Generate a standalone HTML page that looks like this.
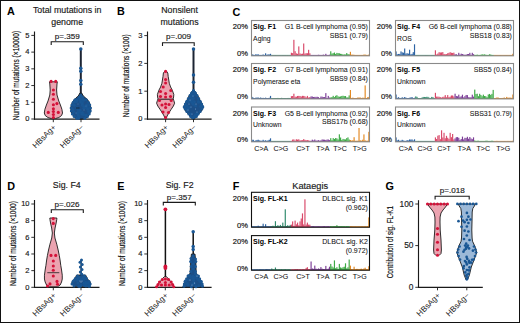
<!DOCTYPE html>
<html><head><meta charset="utf-8"><style>
html,body{margin:0;padding:0;background:#fff;}
body{width:520px;height:323px;overflow:hidden;}
svg{display:block;font-family:"Liberation Sans", sans-serif;}
</style></head><body>
<svg width="520" height="323" viewBox="0 0 520 323">
<rect x="0.5" y="0.5" width="519" height="322" fill="none" stroke="#111" stroke-width="1"/>
<text x="7.00" y="15.40" font-size="10.8" text-anchor="start" font-weight="bold" fill="#000" >A</text>
<text x="67.20" y="13.40" font-size="8.8" text-anchor="middle" font-weight="normal" fill="#1a1a1a" stroke="#1a1a1a" stroke-width="0.16" >Total mutations in</text>
<text x="67.20" y="24.60" font-size="8.8" text-anchor="middle" font-weight="normal" fill="#1a1a1a" stroke="#1a1a1a" stroke-width="0.16" >genome</text>
<line x1="34.50" y1="31.50" x2="34.50" y2="119.80" stroke="#1a1a1a" stroke-width="1.15"/>
<line x1="34.00" y1="119.20" x2="99.50" y2="119.20" stroke="#1a1a1a" stroke-width="1.3"/>
<line x1="31.30" y1="119.00" x2="34.50" y2="119.00" stroke="#1a1a1a" stroke-width="0.9"/>
<text x="29.50" y="121.35" font-size="7.5" text-anchor="end" font-weight="normal" fill="#1a1a1a" stroke="#1a1a1a" stroke-width="0.16" >0</text>
<line x1="31.30" y1="102.28" x2="34.50" y2="102.28" stroke="#1a1a1a" stroke-width="0.9"/>
<text x="29.50" y="104.63" font-size="7.5" text-anchor="end" font-weight="normal" fill="#1a1a1a" stroke="#1a1a1a" stroke-width="0.16" >1</text>
<line x1="31.30" y1="85.56" x2="34.50" y2="85.56" stroke="#1a1a1a" stroke-width="0.9"/>
<text x="29.50" y="87.91" font-size="7.5" text-anchor="end" font-weight="normal" fill="#1a1a1a" stroke="#1a1a1a" stroke-width="0.16" >2</text>
<line x1="31.30" y1="68.84" x2="34.50" y2="68.84" stroke="#1a1a1a" stroke-width="0.9"/>
<text x="29.50" y="71.19" font-size="7.5" text-anchor="end" font-weight="normal" fill="#1a1a1a" stroke="#1a1a1a" stroke-width="0.16" >3</text>
<line x1="31.30" y1="52.12" x2="34.50" y2="52.12" stroke="#1a1a1a" stroke-width="0.9"/>
<text x="29.50" y="54.47" font-size="7.5" text-anchor="end" font-weight="normal" fill="#1a1a1a" stroke="#1a1a1a" stroke-width="0.16" >4</text>
<line x1="31.30" y1="35.40" x2="34.50" y2="35.40" stroke="#1a1a1a" stroke-width="0.9"/>
<text x="29.50" y="37.75" font-size="7.5" text-anchor="end" font-weight="normal" fill="#1a1a1a" stroke="#1a1a1a" stroke-width="0.16" >5</text>
<text x="0" y="0" font-size="8.7" text-anchor="middle" fill="#111" stroke="#111" stroke-width="0.18" textLength="89.5" lengthAdjust="spacingAndGlyphs" transform="translate(15.40,75.60) rotate(-90) translate(0,3.13)">Number of mutations (×10000)</text>
<path d="M51.20,45.00 V41.80 H83.30 V45.00" fill="none" stroke="#1a1a1a" stroke-width="1.1"/>
<text x="67.30" y="38.50" font-size="8.1" text-anchor="middle" font-weight="normal" fill="#1a1a1a" stroke="#1a1a1a" stroke-width="0.16" >p=.359</text>
<line x1="53.30" y1="119.20" x2="53.30" y2="122.20" stroke="#1a1a1a" stroke-width="0.9"/>
<text x="0" y="0" font-size="8.0" text-anchor="end" fill="#1a1a1a" transform="translate(52.50,123.80) rotate(-45) translate(0,5.76)">HBsAg+</text>
<line x1="81.00" y1="119.20" x2="81.00" y2="122.20" stroke="#1a1a1a" stroke-width="0.9"/>
<text x="0" y="0" font-size="8.0" text-anchor="end" fill="#1a1a1a" transform="translate(80.20,123.80) rotate(-45) translate(0,5.76)">HBsAg−</text>
<path d="M57.30,81.80 L57.00,84.00 L56.60,90.00 L57.00,95.00 L58.80,101.00 L60.40,105.00 L61.90,109.30 L62.50,113.00 L61.60,115.50 L58.90,117.50 L55.40,118.60 L51.40,118.60 L47.90,117.50 L45.20,115.50 L44.30,113.00 L44.90,109.30 L46.40,105.00 L48.00,101.00 L49.80,95.00 L50.20,90.00 L49.80,84.00 L49.50,81.80Z" fill="#eba3b0" stroke="#1a1a1a" stroke-width="0.9" stroke-linejoin="round"/>
<circle cx="51.10" cy="81.40" r="1.55" fill="#d41239"/>
<circle cx="55.70" cy="81.40" r="1.55" fill="#d41239"/>
<circle cx="53.40" cy="90.00" r="1.55" fill="#d41239"/>
<circle cx="53.40" cy="94.30" r="1.55" fill="#d41239"/>
<circle cx="53.40" cy="99.30" r="1.55" fill="#d41239"/>
<circle cx="56.90" cy="103.60" r="1.55" fill="#d41239"/>
<circle cx="53.40" cy="104.80" r="1.55" fill="#d41239"/>
<circle cx="53.40" cy="108.70" r="1.55" fill="#d41239"/>
<circle cx="53.40" cy="111.50" r="1.55" fill="#d41239"/>
<circle cx="48.30" cy="112.40" r="1.55" fill="#d41239"/>
<circle cx="58.30" cy="112.40" r="1.55" fill="#d41239"/>
<circle cx="53.40" cy="114.50" r="1.55" fill="#d41239"/>
<circle cx="53.40" cy="117.50" r="1.55" fill="#d41239"/>
<line x1="80.80" y1="49.00" x2="80.80" y2="97.00" stroke="#1c2433" stroke-width="2.0"/>
<path d="M81.70,93.00 L83.30,96.00 L85.80,98.00 L87.80,100.00 L89.60,103.00 L90.80,107.50 L90.60,111.00 L89.60,114.00 L87.80,116.50 L85.30,118.30 L82.80,119.00 L78.80,119.00 L76.30,118.30 L73.80,116.50 L72.00,114.00 L71.00,111.00 L70.80,107.50 L72.00,103.00 L73.80,100.00 L75.80,98.00 L78.30,96.00 L79.90,93.00Z" fill="#1c4f88" stroke="#1a1a1a" stroke-width="0.9" stroke-linejoin="round"/>
<circle cx="80.80" cy="49.10" r="1.75" fill="#1a5794"/>
<circle cx="80.80" cy="68.30" r="1.75" fill="#1a5794"/>
<circle cx="80.80" cy="71.20" r="1.75" fill="#1a5794"/>
<circle cx="80.80" cy="80.60" r="1.75" fill="#1a5794"/>
<circle cx="80.80" cy="84.30" r="1.75" fill="#1a5794"/>
<circle cx="80.80" cy="95.80" r="1.55" fill="#1a5794"/>
<circle cx="79.00" cy="97.50" r="1.55" fill="#1a5794"/>
<circle cx="82.60" cy="97.50" r="1.55" fill="#1a5794"/>
<circle cx="75.40" cy="99.80" r="1.55" fill="#1a5794"/>
<circle cx="86.20" cy="99.80" r="1.55" fill="#1a5794"/>
<circle cx="73.20" cy="102.50" r="1.55" fill="#1a5794"/>
<circle cx="88.40" cy="102.50" r="1.55" fill="#1a5794"/>
<circle cx="71.90" cy="105.00" r="1.55" fill="#1a5794"/>
<circle cx="89.70" cy="105.00" r="1.55" fill="#1a5794"/>
<circle cx="71.20" cy="108.00" r="1.55" fill="#1a5794"/>
<circle cx="90.40" cy="108.00" r="1.55" fill="#1a5794"/>
<circle cx="71.40" cy="111.00" r="1.55" fill="#1a5794"/>
<circle cx="90.20" cy="111.00" r="1.55" fill="#1a5794"/>
<circle cx="72.40" cy="114.00" r="1.55" fill="#1a5794"/>
<circle cx="89.20" cy="114.00" r="1.55" fill="#1a5794"/>
<circle cx="74.20" cy="116.50" r="1.55" fill="#1a5794"/>
<circle cx="87.40" cy="116.50" r="1.55" fill="#1a5794"/>
<circle cx="76.70" cy="118.20" r="1.55" fill="#1a5794"/>
<circle cx="84.90" cy="118.20" r="1.55" fill="#1a5794"/>
<circle cx="74.26" cy="105.31" r="1.55" fill="#1a5794"/>
<circle cx="73.60" cy="111.69" r="1.55" fill="#1a5794"/>
<circle cx="78.33" cy="109.45" r="1.55" fill="#1a5794"/>
<circle cx="80.91" cy="100.13" r="1.55" fill="#1a5794"/>
<circle cx="79.89" cy="99.73" r="1.55" fill="#1a5794"/>
<circle cx="74.82" cy="100.36" r="1.55" fill="#1a5794"/>
<circle cx="87.01" cy="107.28" r="1.55" fill="#1a5794"/>
<circle cx="76.40" cy="101.41" r="1.55" fill="#1a5794"/>
<circle cx="88.52" cy="111.23" r="1.55" fill="#1a5794"/>
<circle cx="78.94" cy="110.25" r="1.55" fill="#1a5794"/>
<circle cx="78.32" cy="118.04" r="1.55" fill="#1a5794"/>
<circle cx="78.45" cy="115.74" r="1.55" fill="#1a5794"/>
<circle cx="74.55" cy="101.81" r="1.55" fill="#1a5794"/>
<circle cx="86.68" cy="105.02" r="1.55" fill="#1a5794"/>
<circle cx="82.19" cy="102.52" r="1.55" fill="#1a5794"/>
<circle cx="78.63" cy="111.46" r="1.55" fill="#1a5794"/>
<circle cx="72.80" cy="109.68" r="1.55" fill="#1a5794"/>
<circle cx="76.58" cy="100.16" r="1.55" fill="#1a5794"/>
<circle cx="79.62" cy="112.27" r="1.55" fill="#1a5794"/>
<circle cx="82.40" cy="105.13" r="1.55" fill="#1a5794"/>
<circle cx="77.01" cy="107.84" r="1.55" fill="#1a5794"/>
<circle cx="83.46" cy="114.49" r="1.55" fill="#1a5794"/>
<circle cx="82.14" cy="103.76" r="1.55" fill="#1a5794"/>
<circle cx="87.74" cy="109.24" r="1.55" fill="#1a5794"/>
<circle cx="77.59" cy="113.22" r="1.55" fill="#1a5794"/>
<circle cx="78.81" cy="118.11" r="1.55" fill="#1a5794"/>
<circle cx="85.69" cy="107.15" r="1.55" fill="#1a5794"/>
<circle cx="80.62" cy="101.96" r="1.55" fill="#1a5794"/>
<circle cx="83.11" cy="99.76" r="1.55" fill="#1a5794"/>
<circle cx="81.84" cy="113.91" r="1.55" fill="#1a5794"/>
<circle cx="78.84" cy="116.07" r="1.55" fill="#1a5794"/>
<circle cx="82.30" cy="112.56" r="1.55" fill="#1a5794"/>
<circle cx="80.01" cy="110.31" r="1.55" fill="#1a5794"/>
<circle cx="86.08" cy="115.38" r="1.55" fill="#1a5794"/>
<circle cx="83.89" cy="108.24" r="1.55" fill="#1a5794"/>
<circle cx="83.69" cy="100.18" r="1.55" fill="#1a5794"/>
<circle cx="89.13" cy="111.62" r="1.55" fill="#1a5794"/>
<circle cx="78.11" cy="115.03" r="1.55" fill="#1a5794"/>
<circle cx="84.00" cy="106.52" r="1.55" fill="#1a5794"/>
<circle cx="80.29" cy="99.44" r="1.55" fill="#1a5794"/>
<line x1="76.00" y1="108.00" x2="79.50" y2="108.00" stroke="#111" stroke-width="0.7"/>
<circle cx="78.00" cy="104.00" r="0.45" fill="#6f95c4"/>
<circle cx="84.00" cy="110.00" r="0.45" fill="#6f95c4"/>
<circle cx="76.00" cy="113.00" r="0.45" fill="#6f95c4"/>
<circle cx="86.00" cy="106.00" r="0.45" fill="#6f95c4"/>
<text x="117.00" y="15.40" font-size="10.8" text-anchor="start" font-weight="bold" fill="#000" >B</text>
<text x="179.60" y="13.40" font-size="8.8" text-anchor="middle" font-weight="normal" fill="#1a1a1a" stroke="#1a1a1a" stroke-width="0.16" >Nonsilent</text>
<text x="179.60" y="24.60" font-size="8.8" text-anchor="middle" font-weight="normal" fill="#1a1a1a" stroke="#1a1a1a" stroke-width="0.16" >mutations</text>
<line x1="147.50" y1="31.50" x2="147.50" y2="119.80" stroke="#1a1a1a" stroke-width="1.15"/>
<line x1="147.00" y1="119.20" x2="211.60" y2="119.20" stroke="#1a1a1a" stroke-width="1.3"/>
<line x1="144.30" y1="119.00" x2="147.50" y2="119.00" stroke="#1a1a1a" stroke-width="0.9"/>
<text x="142.50" y="121.35" font-size="7.5" text-anchor="end" font-weight="normal" fill="#1a1a1a" stroke="#1a1a1a" stroke-width="0.16" >0</text>
<line x1="144.30" y1="91.20" x2="147.50" y2="91.20" stroke="#1a1a1a" stroke-width="0.9"/>
<text x="142.50" y="93.55" font-size="7.5" text-anchor="end" font-weight="normal" fill="#1a1a1a" stroke="#1a1a1a" stroke-width="0.16" >1</text>
<line x1="144.30" y1="63.40" x2="147.50" y2="63.40" stroke="#1a1a1a" stroke-width="0.9"/>
<text x="142.50" y="65.75" font-size="7.5" text-anchor="end" font-weight="normal" fill="#1a1a1a" stroke="#1a1a1a" stroke-width="0.16" >2</text>
<line x1="144.30" y1="35.60" x2="147.50" y2="35.60" stroke="#1a1a1a" stroke-width="0.9"/>
<text x="142.50" y="37.95" font-size="7.5" text-anchor="end" font-weight="normal" fill="#1a1a1a" stroke="#1a1a1a" stroke-width="0.16" >3</text>
<text x="0" y="0" font-size="8.7" text-anchor="middle" fill="#111" stroke="#111" stroke-width="0.18" textLength="82.8" lengthAdjust="spacingAndGlyphs" transform="translate(126.20,75.80) rotate(-90) translate(0,3.13)">Number of mutations (×100)</text>
<path d="M162.50,45.90 V42.70 H194.20 V45.90" fill="none" stroke="#1a1a1a" stroke-width="1.1"/>
<text x="178.50" y="39.30" font-size="8.1" text-anchor="middle" font-weight="normal" fill="#1a1a1a" stroke="#1a1a1a" stroke-width="0.16" >p=.009</text>
<line x1="165.60" y1="119.20" x2="165.60" y2="122.20" stroke="#1a1a1a" stroke-width="0.9"/>
<text x="0" y="0" font-size="8.0" text-anchor="end" fill="#1a1a1a" transform="translate(164.80,123.80) rotate(-45) translate(0,5.76)">HBsAg+</text>
<line x1="193.50" y1="119.20" x2="193.50" y2="122.20" stroke="#1a1a1a" stroke-width="0.9"/>
<text x="0" y="0" font-size="8.0" text-anchor="end" fill="#1a1a1a" transform="translate(192.70,123.80) rotate(-45) translate(0,5.76)">HBsAg−</text>
<path d="M166.40,71.20 L167.80,73.00 L168.20,76.40 L169.30,83.30 L170.60,87.00 L172.30,90.20 L173.80,94.50 L173.60,97.00 L173.20,98.90 L173.80,100.50 L174.60,103.20 L173.40,106.00 L171.20,109.30 L168.80,113.00 L167.10,116.00 L166.10,118.50 L165.10,118.50 L164.10,116.00 L162.40,113.00 L160.00,109.30 L157.80,106.00 L156.60,103.20 L157.40,100.50 L158.00,98.90 L157.60,97.00 L157.40,94.50 L158.90,90.20 L160.60,87.00 L161.90,83.30 L163.00,76.40 L163.40,73.00 L164.80,71.20Z" fill="#eba3b0" stroke="#1a1a1a" stroke-width="0.9" stroke-linejoin="round"/>
<line x1="158.30" y1="99.20" x2="173.00" y2="99.20" stroke="#1a1a1a" stroke-width="1.0"/>
<circle cx="165.60" cy="71.40" r="1.55" fill="#d41239"/>
<circle cx="165.60" cy="79.50" r="1.55" fill="#d41239"/>
<circle cx="165.60" cy="83.00" r="1.55" fill="#d41239"/>
<circle cx="163.20" cy="87.00" r="1.55" fill="#d41239"/>
<circle cx="160.50" cy="91.50" r="1.55" fill="#d41239"/>
<circle cx="170.80" cy="90.50" r="1.55" fill="#d41239"/>
<circle cx="165.60" cy="93.50" r="1.55" fill="#d41239"/>
<circle cx="160.50" cy="96.50" r="1.55" fill="#d41239"/>
<circle cx="170.50" cy="96.50" r="1.55" fill="#d41239"/>
<circle cx="165.60" cy="97.00" r="1.55" fill="#d41239"/>
<circle cx="159.50" cy="100.50" r="1.55" fill="#d41239"/>
<circle cx="171.20" cy="100.50" r="1.55" fill="#d41239"/>
<circle cx="165.60" cy="104.00" r="1.55" fill="#d41239"/>
<circle cx="162.00" cy="105.00" r="1.55" fill="#d41239"/>
<circle cx="169.00" cy="104.50" r="1.55" fill="#d41239"/>
<circle cx="165.60" cy="107.50" r="1.55" fill="#d41239"/>
<circle cx="163.00" cy="112.00" r="1.55" fill="#d41239"/>
<circle cx="168.50" cy="112.50" r="1.55" fill="#d41239"/>
<circle cx="165.60" cy="117.50" r="1.55" fill="#d41239"/>
<line x1="193.50" y1="49.00" x2="193.50" y2="91.00" stroke="#1c2433" stroke-width="2.0"/>
<circle cx="193.50" cy="48.90" r="1.75" fill="#1a5794"/>
<circle cx="193.50" cy="74.90" r="1.75" fill="#1a5794"/>
<circle cx="193.50" cy="82.20" r="1.75" fill="#1a5794"/>
<path d="M194.50,90.50 L196.00,93.00 L198.00,96.00 L200.00,100.00 L202.10,104.00 L203.50,106.90 L202.10,110.00 L199.70,113.00 L197.10,116.00 L195.00,118.50 L194.30,119.20 L192.70,119.20 L192.00,118.50 L189.90,116.00 L187.30,113.00 L184.90,110.00 L183.50,106.90 L184.90,104.00 L187.00,100.00 L189.00,96.00 L191.00,93.00 L192.50,90.50Z" fill="#1c4f88" stroke="#1a1a1a" stroke-width="0.9" stroke-linejoin="round"/>
<circle cx="193.50" cy="90.50" r="1.5" fill="#1a5794"/>
<circle cx="191.60" cy="93.00" r="1.5" fill="#1a5794"/>
<circle cx="195.40" cy="93.00" r="1.5" fill="#1a5794"/>
<circle cx="190.00" cy="95.50" r="1.5" fill="#1a5794"/>
<circle cx="197.00" cy="95.50" r="1.5" fill="#1a5794"/>
<circle cx="188.40" cy="98.50" r="1.5" fill="#1a5794"/>
<circle cx="198.60" cy="98.50" r="1.5" fill="#1a5794"/>
<circle cx="186.60" cy="101.50" r="1.5" fill="#1a5794"/>
<circle cx="200.40" cy="101.50" r="1.5" fill="#1a5794"/>
<circle cx="185.40" cy="104.00" r="1.5" fill="#1a5794"/>
<circle cx="201.60" cy="104.00" r="1.5" fill="#1a5794"/>
<circle cx="184.20" cy="106.90" r="1.5" fill="#1a5794"/>
<circle cx="202.80" cy="106.90" r="1.5" fill="#1a5794"/>
<circle cx="185.20" cy="109.00" r="1.5" fill="#1a5794"/>
<circle cx="201.80" cy="109.00" r="1.5" fill="#1a5794"/>
<circle cx="186.80" cy="111.50" r="1.5" fill="#1a5794"/>
<circle cx="200.20" cy="111.50" r="1.5" fill="#1a5794"/>
<circle cx="188.80" cy="114.00" r="1.5" fill="#1a5794"/>
<circle cx="198.20" cy="114.00" r="1.5" fill="#1a5794"/>
<circle cx="190.60" cy="116.50" r="1.5" fill="#1a5794"/>
<circle cx="196.40" cy="116.50" r="1.5" fill="#1a5794"/>
<circle cx="190.85" cy="96.45" r="1.5" fill="#1a5794"/>
<circle cx="194.45" cy="93.56" r="1.5" fill="#1a5794"/>
<circle cx="192.06" cy="95.43" r="1.5" fill="#1a5794"/>
<circle cx="198.62" cy="102.36" r="1.5" fill="#1a5794"/>
<circle cx="193.29" cy="94.14" r="1.5" fill="#1a5794"/>
<circle cx="200.65" cy="106.56" r="1.5" fill="#1a5794"/>
<circle cx="196.58" cy="113.71" r="1.5" fill="#1a5794"/>
<circle cx="192.63" cy="99.38" r="1.5" fill="#1a5794"/>
<circle cx="198.41" cy="101.51" r="1.5" fill="#1a5794"/>
<circle cx="192.52" cy="117.38" r="1.5" fill="#1a5794"/>
<circle cx="191.58" cy="96.67" r="1.5" fill="#1a5794"/>
<circle cx="193.37" cy="98.18" r="1.5" fill="#1a5794"/>
<circle cx="189.27" cy="107.61" r="1.5" fill="#1a5794"/>
<circle cx="193.35" cy="92.11" r="1.5" fill="#1a5794"/>
<circle cx="194.37" cy="101.79" r="1.5" fill="#1a5794"/>
<circle cx="194.07" cy="117.26" r="1.5" fill="#1a5794"/>
<circle cx="195.57" cy="105.66" r="1.5" fill="#1a5794"/>
<circle cx="187.13" cy="109.92" r="1.5" fill="#1a5794"/>
<circle cx="194.95" cy="115.84" r="1.5" fill="#1a5794"/>
<circle cx="195.35" cy="115.17" r="1.5" fill="#1a5794"/>
<circle cx="192.10" cy="102.40" r="1.5" fill="#1a5794"/>
<circle cx="194.16" cy="94.74" r="1.5" fill="#1a5794"/>
<circle cx="191.92" cy="93.65" r="1.5" fill="#1a5794"/>
<circle cx="190.74" cy="97.53" r="1.5" fill="#1a5794"/>
<circle cx="188.04" cy="101.01" r="1.5" fill="#1a5794"/>
<circle cx="192.89" cy="92.01" r="1.5" fill="#1a5794"/>
<circle cx="192.84" cy="94.69" r="1.5" fill="#1a5794"/>
<circle cx="194.45" cy="92.68" r="1.5" fill="#1a5794"/>
<circle cx="187.59" cy="108.27" r="1.5" fill="#1a5794"/>
<circle cx="192.05" cy="98.68" r="1.5" fill="#1a5794"/>
<circle cx="188.62" cy="101.65" r="1.5" fill="#1a5794"/>
<circle cx="197.07" cy="114.50" r="1.5" fill="#1a5794"/>
<circle cx="193.24" cy="104.35" r="1.5" fill="#1a5794"/>
<circle cx="191.76" cy="94.28" r="1.5" fill="#1a5794"/>
<circle cx="190.61" cy="101.08" r="1.5" fill="#1a5794"/>
<circle cx="190.77" cy="113.96" r="1.5" fill="#1a5794"/>
<circle cx="194.61" cy="92.61" r="1.5" fill="#1a5794"/>
<circle cx="187.14" cy="106.00" r="1.5" fill="#1a5794"/>
<circle cx="184.77" cy="106.39" r="1.5" fill="#1a5794"/>
<circle cx="202.11" cy="105.99" r="1.5" fill="#1a5794"/>
<circle cx="190.00" cy="100.00" r="0.5" fill="#7fa3cf"/>
<circle cx="196.00" cy="104.00" r="0.5" fill="#7fa3cf"/>
<circle cx="188.00" cy="110.00" r="0.5" fill="#7fa3cf"/>
<circle cx="197.00" cy="112.00" r="0.5" fill="#7fa3cf"/>
<circle cx="193.00" cy="96.00" r="0.5" fill="#7fa3cf"/>
<circle cx="191.00" cy="107.00" r="0.5" fill="#7fa3cf"/>
<circle cx="195.50" cy="109.00" r="0.5" fill="#7fa3cf"/>
<circle cx="192.00" cy="114.00" r="0.5" fill="#7fa3cf"/>
<circle cx="189.00" cy="104.00" r="0.5" fill="#7fa3cf"/>
<text x="7.30" y="189.70" font-size="10.8" text-anchor="start" font-weight="bold" fill="#000" >D</text>
<text x="66.80" y="188.00" font-size="8.8" text-anchor="middle" font-weight="normal" fill="#1a1a1a" stroke="#1a1a1a" stroke-width="0.16" >Sig. F4</text>
<line x1="34.50" y1="200.00" x2="34.50" y2="287.90" stroke="#1a1a1a" stroke-width="1.15"/>
<line x1="34.00" y1="287.30" x2="99.50" y2="287.30" stroke="#1a1a1a" stroke-width="1.3"/>
<line x1="31.30" y1="287.30" x2="34.50" y2="287.30" stroke="#1a1a1a" stroke-width="0.9"/>
<text x="29.50" y="289.65" font-size="7.5" text-anchor="end" font-weight="normal" fill="#1a1a1a" stroke="#1a1a1a" stroke-width="0.16" >0</text>
<line x1="31.30" y1="270.64" x2="34.50" y2="270.64" stroke="#1a1a1a" stroke-width="0.9"/>
<text x="29.50" y="272.99" font-size="7.5" text-anchor="end" font-weight="normal" fill="#1a1a1a" stroke="#1a1a1a" stroke-width="0.16" >2</text>
<line x1="31.30" y1="253.98" x2="34.50" y2="253.98" stroke="#1a1a1a" stroke-width="0.9"/>
<text x="29.50" y="256.33" font-size="7.5" text-anchor="end" font-weight="normal" fill="#1a1a1a" stroke="#1a1a1a" stroke-width="0.16" >4</text>
<line x1="31.30" y1="237.32" x2="34.50" y2="237.32" stroke="#1a1a1a" stroke-width="0.9"/>
<text x="29.50" y="239.67" font-size="7.5" text-anchor="end" font-weight="normal" fill="#1a1a1a" stroke="#1a1a1a" stroke-width="0.16" >6</text>
<line x1="31.30" y1="220.66" x2="34.50" y2="220.66" stroke="#1a1a1a" stroke-width="0.9"/>
<text x="29.50" y="223.01" font-size="7.5" text-anchor="end" font-weight="normal" fill="#1a1a1a" stroke="#1a1a1a" stroke-width="0.16" >8</text>
<line x1="31.30" y1="204.00" x2="34.50" y2="204.00" stroke="#1a1a1a" stroke-width="0.9"/>
<text x="29.50" y="206.35" font-size="7.5" text-anchor="end" font-weight="normal" fill="#1a1a1a" stroke="#1a1a1a" stroke-width="0.16" >10</text>
<text x="0" y="0" font-size="8.7" text-anchor="middle" fill="#111" stroke="#111" stroke-width="0.18" textLength="85" lengthAdjust="spacingAndGlyphs" transform="translate(12.40,243.60) rotate(-90) translate(0,3.13)">Number of mutations (×1000)</text>
<path d="M51.30,212.90 V209.70 H83.30 V212.90" fill="none" stroke="#1a1a1a" stroke-width="1.1"/>
<text x="67.10" y="206.80" font-size="8.1" text-anchor="middle" font-weight="normal" fill="#1a1a1a" stroke="#1a1a1a" stroke-width="0.16" >p=.026</text>
<line x1="53.30" y1="287.30" x2="53.30" y2="290.30" stroke="#1a1a1a" stroke-width="0.9"/>
<text x="0" y="0" font-size="8.0" text-anchor="end" fill="#1a1a1a" transform="translate(52.50,291.90) rotate(-45) translate(0,5.76)">HBsAg+</text>
<line x1="81.00" y1="287.30" x2="81.00" y2="290.30" stroke="#1a1a1a" stroke-width="0.9"/>
<text x="0" y="0" font-size="8.0" text-anchor="end" fill="#1a1a1a" transform="translate(80.20,291.90) rotate(-45) translate(0,5.76)">HBsAg−</text>
<path d="M56.85,218.00 L56.75,219.50 L56.15,223.00 L55.05,228.00 L54.35,233.00 L54.95,238.00 L56.75,244.20 L58.15,250.00 L59.25,255.40 L60.05,260.00 L60.75,265.30 L61.55,270.00 L62.25,275.20 L62.25,279.00 L61.55,282.00 L60.15,285.00 L57.35,286.80 L49.35,286.80 L46.55,285.00 L45.15,282.00 L44.45,279.00 L44.45,275.20 L45.15,270.00 L45.95,265.30 L46.65,260.00 L47.45,255.40 L48.55,250.00 L49.95,244.20 L51.75,238.00 L52.35,233.00 L51.65,228.00 L50.55,223.00 L49.95,219.50 L49.85,218.00Z" fill="#eba3b0" stroke="#1a1a1a" stroke-width="0.9" stroke-linejoin="round"/>
<circle cx="53.30" cy="218.60" r="1.55" fill="#d41239"/>
<circle cx="53.30" cy="223.40" r="1.55" fill="#d41239"/>
<circle cx="51.00" cy="255.40" r="1.55" fill="#d41239"/>
<circle cx="55.70" cy="255.40" r="1.55" fill="#d41239"/>
<circle cx="53.30" cy="261.00" r="1.55" fill="#d41239"/>
<circle cx="53.30" cy="266.00" r="1.55" fill="#d41239"/>
<circle cx="53.30" cy="270.20" r="1.55" fill="#d41239"/>
<circle cx="53.30" cy="276.00" r="1.55" fill="#d41239"/>
<circle cx="57.00" cy="281.40" r="1.55" fill="#d41239"/>
<circle cx="50.00" cy="283.90" r="1.55" fill="#d41239"/>
<circle cx="57.50" cy="284.20" r="1.55" fill="#d41239"/>
<circle cx="47.50" cy="286.00" r="1.55" fill="#d41239"/>
<line x1="47.30" y1="272.70" x2="59.30" y2="272.70" stroke="#1a1a1a" stroke-width="0.8"/>
<line x1="81.10" y1="260.00" x2="81.10" y2="276.00" stroke="#1c2433" stroke-width="1.3"/>
<path d="M85.60,275.00 L86.60,277.00 L87.60,279.00 L89.60,281.00 L90.60,283.00 L89.60,285.00 L86.10,286.80 L76.10,286.80 L72.60,285.00 L71.60,283.00 L72.60,281.00 L74.60,279.00 L75.60,277.00 L76.60,275.00Z" fill="#1c4f88" stroke="#1a1a1a" stroke-width="0.8" stroke-linejoin="round"/>
<circle cx="81.50" cy="259.90" r="1.5" fill="#1a5794"/>
<circle cx="80.00" cy="262.20" r="1.5" fill="#1a5794"/>
<circle cx="82.20" cy="264.60" r="1.5" fill="#1a5794"/>
<circle cx="80.40" cy="267.00" r="1.5" fill="#1a5794"/>
<circle cx="82.00" cy="269.50" r="1.5" fill="#1a5794"/>
<circle cx="80.30" cy="272.00" r="1.5" fill="#1a5794"/>
<circle cx="81.80" cy="274.20" r="1.5" fill="#1a5794"/>
<circle cx="77.50" cy="276.00" r="1.5" fill="#1a5794"/>
<circle cx="84.50" cy="276.00" r="1.5" fill="#1a5794"/>
<circle cx="75.30" cy="278.50" r="1.5" fill="#1a5794"/>
<circle cx="86.50" cy="278.50" r="1.5" fill="#1a5794"/>
<circle cx="73.00" cy="281.50" r="1.5" fill="#1a5794"/>
<circle cx="89.00" cy="281.50" r="1.5" fill="#1a5794"/>
<circle cx="72.00" cy="284.00" r="1.5" fill="#1a5794"/>
<circle cx="90.20" cy="284.00" r="1.5" fill="#1a5794"/>
<circle cx="74.00" cy="286.00" r="1.5" fill="#1a5794"/>
<circle cx="88.50" cy="286.00" r="1.5" fill="#1a5794"/>
<circle cx="78.00" cy="283.00" r="1.5" fill="#1a5794"/>
<circle cx="84.00" cy="283.00" r="1.5" fill="#1a5794"/>
<circle cx="81.00" cy="285.00" r="1.5" fill="#1a5794"/>
<circle cx="84.44" cy="285.46" r="1.5" fill="#1a5794"/>
<circle cx="79.27" cy="279.56" r="1.5" fill="#1a5794"/>
<circle cx="84.42" cy="278.64" r="1.5" fill="#1a5794"/>
<circle cx="85.84" cy="282.22" r="1.5" fill="#1a5794"/>
<circle cx="77.01" cy="280.23" r="1.5" fill="#1a5794"/>
<circle cx="89.34" cy="284.95" r="1.5" fill="#1a5794"/>
<circle cx="86.30" cy="285.36" r="1.5" fill="#1a5794"/>
<circle cx="85.18" cy="285.02" r="1.5" fill="#1a5794"/>
<circle cx="81.33" cy="279.22" r="1.5" fill="#1a5794"/>
<circle cx="73.95" cy="280.48" r="1.5" fill="#1a5794"/>
<circle cx="78.89" cy="277.27" r="1.5" fill="#1a5794"/>
<circle cx="83.73" cy="279.54" r="1.5" fill="#1a5794"/>
<circle cx="80.20" cy="286.37" r="1.5" fill="#1a5794"/>
<circle cx="89.40" cy="286.18" r="1.5" fill="#1a5794"/>
<circle cx="78.80" cy="286.36" r="1.5" fill="#1a5794"/>
<circle cx="77.53" cy="279.16" r="1.5" fill="#1a5794"/>
<circle cx="77.35" cy="278.93" r="1.5" fill="#1a5794"/>
<circle cx="87.91" cy="283.12" r="1.5" fill="#1a5794"/>
<circle cx="80.75" cy="285.24" r="1.5" fill="#1a5794"/>
<circle cx="86.19" cy="283.40" r="1.5" fill="#1a5794"/>
<circle cx="82.86" cy="277.83" r="1.5" fill="#1a5794"/>
<circle cx="85.90" cy="285.92" r="1.5" fill="#1a5794"/>
<circle cx="80.00" cy="281.00" r="0.55" fill="#8fb0d8"/>
<circle cx="82.00" cy="281.00" r="0.55" fill="#8fb0d8"/>
<circle cx="81.00" cy="282.00" r="0.55" fill="#8fb0d8"/>
<text x="117.30" y="190.00" font-size="10.8" text-anchor="start" font-weight="bold" fill="#000" >E</text>
<text x="179.60" y="188.00" font-size="8.8" text-anchor="middle" font-weight="normal" fill="#1a1a1a" stroke="#1a1a1a" stroke-width="0.16" >Sig. F2</text>
<line x1="147.50" y1="200.00" x2="147.50" y2="287.90" stroke="#1a1a1a" stroke-width="1.15"/>
<line x1="147.00" y1="287.30" x2="211.60" y2="287.30" stroke="#1a1a1a" stroke-width="1.3"/>
<line x1="144.30" y1="287.30" x2="147.50" y2="287.30" stroke="#1a1a1a" stroke-width="0.9"/>
<text x="142.50" y="289.65" font-size="7.5" text-anchor="end" font-weight="normal" fill="#1a1a1a" stroke="#1a1a1a" stroke-width="0.16" >0</text>
<line x1="144.30" y1="270.64" x2="147.50" y2="270.64" stroke="#1a1a1a" stroke-width="0.9"/>
<text x="142.50" y="272.99" font-size="7.5" text-anchor="end" font-weight="normal" fill="#1a1a1a" stroke="#1a1a1a" stroke-width="0.16" >2</text>
<line x1="144.30" y1="253.98" x2="147.50" y2="253.98" stroke="#1a1a1a" stroke-width="0.9"/>
<text x="142.50" y="256.33" font-size="7.5" text-anchor="end" font-weight="normal" fill="#1a1a1a" stroke="#1a1a1a" stroke-width="0.16" >4</text>
<line x1="144.30" y1="237.32" x2="147.50" y2="237.32" stroke="#1a1a1a" stroke-width="0.9"/>
<text x="142.50" y="239.67" font-size="7.5" text-anchor="end" font-weight="normal" fill="#1a1a1a" stroke="#1a1a1a" stroke-width="0.16" >6</text>
<line x1="144.30" y1="220.66" x2="147.50" y2="220.66" stroke="#1a1a1a" stroke-width="0.9"/>
<text x="142.50" y="223.01" font-size="7.5" text-anchor="end" font-weight="normal" fill="#1a1a1a" stroke="#1a1a1a" stroke-width="0.16" >8</text>
<line x1="144.30" y1="204.00" x2="147.50" y2="204.00" stroke="#1a1a1a" stroke-width="0.9"/>
<text x="142.50" y="206.35" font-size="7.5" text-anchor="end" font-weight="normal" fill="#1a1a1a" stroke="#1a1a1a" stroke-width="0.16" >10</text>
<text x="0" y="0" font-size="8.7" text-anchor="middle" fill="#111" stroke="#111" stroke-width="0.18" textLength="85" lengthAdjust="spacingAndGlyphs" transform="translate(122.00,243.60) rotate(-90) translate(0,3.13)">Number of mutations (×1000)</text>
<path d="M163.30,205.60 V202.40 H195.30 V205.60" fill="none" stroke="#1a1a1a" stroke-width="1.1"/>
<text x="179.20" y="199.50" font-size="8.1" text-anchor="middle" font-weight="normal" fill="#1a1a1a" stroke="#1a1a1a" stroke-width="0.16" >p=.357</text>
<line x1="165.30" y1="287.30" x2="165.30" y2="290.30" stroke="#1a1a1a" stroke-width="0.9"/>
<text x="0" y="0" font-size="8.0" text-anchor="end" fill="#1a1a1a" transform="translate(164.50,291.90) rotate(-45) translate(0,5.76)">HBsAg+</text>
<line x1="193.20" y1="287.30" x2="193.20" y2="290.30" stroke="#1a1a1a" stroke-width="0.9"/>
<text x="0" y="0" font-size="8.0" text-anchor="end" fill="#1a1a1a" transform="translate(192.40,291.90) rotate(-45) translate(0,5.76)">HBsAg−</text>
<line x1="165.40" y1="209.00" x2="165.40" y2="277.00" stroke="#111" stroke-width="1.5"/>
<path d="M166.20,276.60 L167.90,278.00 L169.40,280.00 L172.40,283.90 L173.70,286.00 L173.90,287.30 L156.90,287.30 L157.10,286.00 L158.40,283.90 L161.40,280.00 L162.90,278.00 L164.60,276.60Z" fill="#eba3b0" stroke="#1a1a1a" stroke-width="0.9" stroke-linejoin="round"/>
<circle cx="165.40" cy="209.30" r="1.9" fill="#d41239"/>
<circle cx="165.40" cy="266.40" r="1.9" fill="#d41239"/>
<circle cx="165.40" cy="268.00" r="1.9" fill="#d41239"/>
<circle cx="162.30" cy="279.50" r="1.55" fill="#d41239"/>
<circle cx="165.40" cy="279.00" r="1.55" fill="#d41239"/>
<circle cx="168.50" cy="279.50" r="1.55" fill="#d41239"/>
<circle cx="159.50" cy="282.00" r="1.55" fill="#d41239"/>
<circle cx="171.20" cy="282.00" r="1.55" fill="#d41239"/>
<circle cx="165.40" cy="282.50" r="1.55" fill="#d41239"/>
<circle cx="158.00" cy="284.50" r="1.55" fill="#d41239"/>
<circle cx="161.50" cy="285.00" r="1.55" fill="#d41239"/>
<circle cx="165.40" cy="285.00" r="1.55" fill="#d41239"/>
<circle cx="169.20" cy="285.00" r="1.55" fill="#d41239"/>
<circle cx="172.60" cy="284.50" r="1.55" fill="#d41239"/>
<circle cx="156.60" cy="286.80" r="1.55" fill="#d41239"/>
<circle cx="173.80" cy="286.80" r="1.55" fill="#d41239"/>
<line x1="193.20" y1="232.00" x2="193.20" y2="276.00" stroke="#111" stroke-width="1.5"/>
<path d="M195.00,254.00 L195.90,262.00 L196.20,272.70 L199.20,278.30 L202.20,283.30 L203.20,286.50 L202.70,287.30 L183.70,287.30 L183.20,286.50 L184.20,283.30 L187.20,278.30 L190.20,272.70 L190.50,262.00 L191.40,254.00Z" fill="#1c4f88" stroke="#1a1a1a" stroke-width="0.8" stroke-linejoin="round"/>
<circle cx="193.20" cy="231.80" r="1.75" fill="#1a5794"/>
<circle cx="193.20" cy="246.60" r="1.75" fill="#1a5794"/>
<circle cx="193.20" cy="249.40" r="1.75" fill="#1a5794"/>
<circle cx="193.20" cy="256.00" r="1.5" fill="#1a5794"/>
<circle cx="191.00" cy="258.50" r="1.5" fill="#1a5794"/>
<circle cx="195.50" cy="259.00" r="1.5" fill="#1a5794"/>
<circle cx="190.60" cy="261.60" r="1.5" fill="#1a5794"/>
<circle cx="195.80" cy="261.60" r="1.5" fill="#1a5794"/>
<circle cx="193.20" cy="264.00" r="1.5" fill="#1a5794"/>
<circle cx="191.20" cy="266.50" r="1.5" fill="#1a5794"/>
<circle cx="195.40" cy="266.50" r="1.5" fill="#1a5794"/>
<circle cx="193.20" cy="269.00" r="1.5" fill="#1a5794"/>
<circle cx="190.80" cy="271.50" r="1.5" fill="#1a5794"/>
<circle cx="195.50" cy="271.50" r="1.5" fill="#1a5794"/>
<circle cx="188.00" cy="276.00" r="1.5" fill="#1a5794"/>
<circle cx="198.50" cy="276.00" r="1.5" fill="#1a5794"/>
<circle cx="186.60" cy="278.80" r="1.5" fill="#1a5794"/>
<circle cx="199.60" cy="278.80" r="1.5" fill="#1a5794"/>
<circle cx="185.00" cy="281.50" r="1.5" fill="#1a5794"/>
<circle cx="201.40" cy="281.50" r="1.5" fill="#1a5794"/>
<circle cx="184.30" cy="284.00" r="1.5" fill="#1a5794"/>
<circle cx="202.20" cy="284.00" r="1.5" fill="#1a5794"/>
<circle cx="184.00" cy="286.30" r="1.5" fill="#1a5794"/>
<circle cx="202.50" cy="286.30" r="1.5" fill="#1a5794"/>
<circle cx="192.80" cy="283.75" r="1.5" fill="#1a5794"/>
<circle cx="196.19" cy="276.32" r="1.5" fill="#1a5794"/>
<circle cx="197.03" cy="278.32" r="1.5" fill="#1a5794"/>
<circle cx="191.33" cy="286.63" r="1.5" fill="#1a5794"/>
<circle cx="199.38" cy="279.22" r="1.5" fill="#1a5794"/>
<circle cx="187.26" cy="283.42" r="1.5" fill="#1a5794"/>
<circle cx="189.87" cy="275.65" r="1.5" fill="#1a5794"/>
<circle cx="198.72" cy="285.76" r="1.5" fill="#1a5794"/>
<circle cx="196.41" cy="275.90" r="1.5" fill="#1a5794"/>
<circle cx="196.03" cy="286.74" r="1.5" fill="#1a5794"/>
<circle cx="193.83" cy="278.56" r="1.5" fill="#1a5794"/>
<circle cx="188.54" cy="275.70" r="1.5" fill="#1a5794"/>
<circle cx="195.89" cy="286.62" r="1.5" fill="#1a5794"/>
<circle cx="200.04" cy="280.85" r="1.5" fill="#1a5794"/>
<circle cx="198.53" cy="279.64" r="1.5" fill="#1a5794"/>
<circle cx="188.00" cy="284.74" r="1.5" fill="#1a5794"/>
<circle cx="190.82" cy="277.27" r="1.5" fill="#1a5794"/>
<circle cx="194.18" cy="277.13" r="1.5" fill="#1a5794"/>
<circle cx="192.26" cy="277.37" r="1.5" fill="#1a5794"/>
<circle cx="197.14" cy="275.70" r="1.5" fill="#1a5794"/>
<circle cx="192.65" cy="278.60" r="1.5" fill="#1a5794"/>
<circle cx="199.94" cy="281.58" r="1.5" fill="#1a5794"/>
<circle cx="199.10" cy="279.47" r="1.5" fill="#1a5794"/>
<circle cx="193.69" cy="280.52" r="1.5" fill="#1a5794"/>
<circle cx="185.63" cy="280.81" r="1.5" fill="#1a5794"/>
<circle cx="188.63" cy="279.72" r="1.5" fill="#1a5794"/>
<circle cx="195.48" cy="274.05" r="1.5" fill="#1a5794"/>
<circle cx="192.93" cy="276.24" r="1.5" fill="#1a5794"/>
<circle cx="194.22" cy="283.43" r="1.5" fill="#1a5794"/>
<circle cx="193.43" cy="278.24" r="1.5" fill="#1a5794"/>
<circle cx="194.50" cy="283.00" r="0.55" fill="#8fb0d8"/>
<circle cx="190.00" cy="280.00" r="0.55" fill="#8fb0d8"/>
<circle cx="197.00" cy="276.00" r="0.55" fill="#8fb0d8"/>
<circle cx="192.00" cy="285.00" r="0.55" fill="#8fb0d8"/>
<text x="385.40" y="189.70" font-size="10.8" text-anchor="start" font-weight="bold" fill="#000" >G</text>
<line x1="418.50" y1="200.20" x2="418.50" y2="287.90" stroke="#1a1a1a" stroke-width="1.15"/>
<line x1="418.00" y1="287.30" x2="482.80" y2="287.30" stroke="#1a1a1a" stroke-width="1.3"/>
<line x1="415.30" y1="287.30" x2="418.50" y2="287.30" stroke="#1a1a1a" stroke-width="0.9"/>
<text x="413.50" y="289.97" font-size="8.4" text-anchor="end" font-weight="normal" fill="#1a1a1a" stroke="#1a1a1a" stroke-width="0.16" >0</text>
<line x1="415.30" y1="245.60" x2="418.50" y2="245.60" stroke="#1a1a1a" stroke-width="0.9"/>
<text x="413.50" y="248.26" font-size="8.4" text-anchor="end" font-weight="normal" fill="#1a1a1a" stroke="#1a1a1a" stroke-width="0.16" >50</text>
<line x1="415.30" y1="204.00" x2="418.50" y2="204.00" stroke="#1a1a1a" stroke-width="0.9"/>
<text x="413.50" y="206.66" font-size="8.4" text-anchor="end" font-weight="normal" fill="#1a1a1a" stroke="#1a1a1a" stroke-width="0.16" >100</text>
<text x="0" y="0" font-size="8.7" text-anchor="middle" fill="#111" stroke="#111" stroke-width="0.18" textLength="72.3" lengthAdjust="spacingAndGlyphs" transform="translate(390.10,242.10) rotate(-90) translate(0,3.13)">Contribution of sig. FL-K1</text>
<path d="M435.10,199.40 V196.20 H469.20 V199.40" fill="none" stroke="#1a1a1a" stroke-width="1.1"/>
<text x="452.20" y="193.00" font-size="8.1" text-anchor="middle" font-weight="normal" fill="#1a1a1a" stroke="#1a1a1a" stroke-width="0.16" >p=.018</text>
<line x1="437.50" y1="287.30" x2="437.50" y2="290.30" stroke="#1a1a1a" stroke-width="0.9"/>
<text x="0" y="0" font-size="8.0" text-anchor="end" fill="#1a1a1a" transform="translate(436.70,291.90) rotate(-45) translate(0,5.76)">HBsAg+</text>
<line x1="466.80" y1="287.30" x2="466.80" y2="290.30" stroke="#1a1a1a" stroke-width="0.9"/>
<text x="0" y="0" font-size="8.0" text-anchor="end" fill="#1a1a1a" transform="translate(466.00,291.90) rotate(-45) translate(0,5.76)">HBsAg−</text>
<path d="M447.50,204.00 L445.50,207.00 L443.00,210.00 L441.00,213.00 L440.10,217.00 L440.00,222.00 L440.20,230.00 L441.00,240.00 L441.40,250.00 L441.00,253.50 L439.00,255.50 L436.00,255.50 L434.00,253.50 L433.60,250.00 L434.00,240.00 L434.80,230.00 L435.00,222.00 L434.90,217.00 L434.00,213.00 L432.00,210.00 L429.50,207.00 L427.50,204.00Z" fill="#eba3b0" stroke="#1a1a1a" stroke-width="0.9" stroke-linejoin="round"/>
<circle cx="427.50" cy="204.00" r="1.55" fill="#d41239"/>
<circle cx="430.83" cy="204.00" r="1.55" fill="#d41239"/>
<circle cx="434.16" cy="204.00" r="1.55" fill="#d41239"/>
<circle cx="437.49" cy="204.00" r="1.55" fill="#d41239"/>
<circle cx="440.82" cy="204.00" r="1.55" fill="#d41239"/>
<circle cx="444.15" cy="204.00" r="1.55" fill="#d41239"/>
<circle cx="447.48" cy="204.00" r="1.55" fill="#d41239"/>
<circle cx="437.50" cy="228.50" r="1.55" fill="#d41239"/>
<circle cx="437.50" cy="234.30" r="1.55" fill="#d41239"/>
<circle cx="437.50" cy="242.20" r="1.55" fill="#d41239"/>
<circle cx="437.50" cy="249.80" r="1.55" fill="#d41239"/>
<circle cx="437.50" cy="255.20" r="1.55" fill="#d41239"/>
<path d="M475.40,204.00 L474.40,206.00 L472.80,208.50 L472.20,212.00 L472.00,222.00 L471.80,230.00 L472.10,238.00 L472.50,241.20 L474.80,246.10 L476.80,252.50 L474.40,259.00 L471.30,267.00 L469.40,275.10 L467.60,279.60 L466.00,279.60 L464.20,275.10 L462.30,267.00 L459.20,259.00 L456.80,252.50 L458.80,246.10 L461.10,241.20 L461.50,238.00 L461.80,230.00 L461.60,222.00 L461.40,212.00 L460.80,208.50 L459.20,206.00 L458.20,204.00Z" fill="#9cb9d8" stroke="#1a1a1a" stroke-width="0.9" stroke-linejoin="round"/>
<circle cx="457.40" cy="203.90" r="1.35" fill="#1a5794"/>
<circle cx="460.55" cy="203.90" r="1.35" fill="#1a5794"/>
<circle cx="463.70" cy="203.90" r="1.35" fill="#1a5794"/>
<circle cx="466.85" cy="203.90" r="1.35" fill="#1a5794"/>
<circle cx="470.00" cy="203.90" r="1.35" fill="#1a5794"/>
<circle cx="473.15" cy="203.90" r="1.35" fill="#1a5794"/>
<circle cx="476.30" cy="203.90" r="1.35" fill="#1a5794"/>
<circle cx="466.90" cy="212.90" r="1.35" fill="#1a5794"/>
<circle cx="461.50" cy="216.70" r="1.35" fill="#1a5794"/>
<circle cx="468.40" cy="216.70" r="1.35" fill="#1a5794"/>
<circle cx="463.00" cy="220.60" r="1.35" fill="#1a5794"/>
<circle cx="466.90" cy="219.80" r="1.35" fill="#1a5794"/>
<circle cx="470.50" cy="219.50" r="1.35" fill="#1a5794"/>
<circle cx="458.50" cy="221.20" r="1.35" fill="#1a5794"/>
<circle cx="464.60" cy="222.20" r="1.35" fill="#1a5794"/>
<circle cx="468.40" cy="223.00" r="1.35" fill="#1a5794"/>
<circle cx="461.50" cy="226.80" r="1.35" fill="#1a5794"/>
<circle cx="466.90" cy="226.50" r="1.35" fill="#1a5794"/>
<circle cx="464.60" cy="230.70" r="1.35" fill="#1a5794"/>
<circle cx="468.40" cy="231.50" r="1.35" fill="#1a5794"/>
<circle cx="466.80" cy="235.50" r="1.35" fill="#1a5794"/>
<circle cx="464.00" cy="239.00" r="1.35" fill="#1a5794"/>
<circle cx="469.50" cy="240.00" r="1.35" fill="#1a5794"/>
<circle cx="459.60" cy="246.50" r="1.35" fill="#1a5794"/>
<circle cx="474.00" cy="246.50" r="1.35" fill="#1a5794"/>
<circle cx="458.20" cy="249.50" r="1.35" fill="#1a5794"/>
<circle cx="475.40" cy="249.50" r="1.35" fill="#1a5794"/>
<circle cx="457.60" cy="252.50" r="1.35" fill="#1a5794"/>
<circle cx="476.00" cy="252.50" r="1.35" fill="#1a5794"/>
<circle cx="458.60" cy="256.00" r="1.35" fill="#1a5794"/>
<circle cx="475.00" cy="256.00" r="1.35" fill="#1a5794"/>
<circle cx="460.00" cy="259.50" r="1.35" fill="#1a5794"/>
<circle cx="473.60" cy="259.50" r="1.35" fill="#1a5794"/>
<circle cx="469.72" cy="262.44" r="1.35" fill="#1a5794"/>
<circle cx="467.28" cy="246.71" r="1.35" fill="#1a5794"/>
<circle cx="463.46" cy="251.70" r="1.35" fill="#1a5794"/>
<circle cx="466.84" cy="270.03" r="1.35" fill="#1a5794"/>
<circle cx="469.44" cy="262.66" r="1.35" fill="#1a5794"/>
<circle cx="466.64" cy="274.94" r="1.35" fill="#1a5794"/>
<circle cx="466.85" cy="264.44" r="1.35" fill="#1a5794"/>
<circle cx="468.96" cy="260.93" r="1.35" fill="#1a5794"/>
<circle cx="467.21" cy="258.83" r="1.35" fill="#1a5794"/>
<circle cx="472.06" cy="259.73" r="1.35" fill="#1a5794"/>
<circle cx="469.54" cy="267.47" r="1.35" fill="#1a5794"/>
<circle cx="466.28" cy="275.98" r="1.35" fill="#1a5794"/>
<circle cx="471.32" cy="262.58" r="1.35" fill="#1a5794"/>
<circle cx="465.23" cy="272.40" r="1.35" fill="#1a5794"/>
<circle cx="466.29" cy="247.26" r="1.35" fill="#1a5794"/>
<circle cx="465.15" cy="245.54" r="1.35" fill="#1a5794"/>
<circle cx="467.88" cy="245.56" r="1.35" fill="#1a5794"/>
<circle cx="468.98" cy="270.44" r="1.35" fill="#1a5794"/>
<circle cx="469.04" cy="248.41" r="1.35" fill="#1a5794"/>
<circle cx="463.91" cy="266.11" r="1.35" fill="#1a5794"/>
<circle cx="468.40" cy="273.90" r="1.35" fill="#1a5794"/>
<circle cx="472.93" cy="250.69" r="1.35" fill="#1a5794"/>
<circle cx="466.63" cy="256.94" r="1.35" fill="#1a5794"/>
<circle cx="467.40" cy="277.65" r="1.35" fill="#1a5794"/>
<circle cx="466.07" cy="248.65" r="1.35" fill="#1a5794"/>
<circle cx="465.01" cy="261.05" r="1.35" fill="#1a5794"/>
<circle cx="464.55" cy="249.85" r="1.35" fill="#1a5794"/>
<circle cx="463.54" cy="268.28" r="1.35" fill="#1a5794"/>
<circle cx="466.19" cy="262.39" r="1.35" fill="#1a5794"/>
<circle cx="466.18" cy="243.63" r="1.35" fill="#1a5794"/>
<circle cx="466.80" cy="279.30" r="1.35" fill="#1a5794"/>
<text x="232.40" y="15.60" font-size="10.8" text-anchor="start" font-weight="bold" fill="#000" >C</text>
<rect x="251.50" y="54.30" width="1.17" height="1.50" fill="#2e64a4"/>
<rect x="252.73" y="54.79" width="1.17" height="1.01" fill="#2e64a4"/>
<rect x="253.96" y="55.24" width="1.17" height="0.56" fill="#2e64a4"/>
<rect x="255.19" y="54.31" width="1.17" height="1.49" fill="#2e64a4"/>
<rect x="256.42" y="54.51" width="1.17" height="1.29" fill="#2e64a4"/>
<rect x="257.65" y="54.33" width="1.17" height="1.47" fill="#2e64a4"/>
<rect x="258.88" y="55.20" width="1.17" height="0.60" fill="#2e64a4"/>
<rect x="260.10" y="55.03" width="1.17" height="0.77" fill="#2e64a4"/>
<rect x="261.33" y="55.26" width="1.17" height="0.54" fill="#2e64a4"/>
<rect x="262.56" y="54.52" width="1.17" height="1.28" fill="#2e64a4"/>
<rect x="263.79" y="55.03" width="1.17" height="0.77" fill="#2e64a4"/>
<rect x="265.02" y="53.30" width="1.17" height="2.50" fill="#2e64a4"/>
<rect x="266.25" y="54.88" width="1.17" height="0.92" fill="#2e64a4"/>
<rect x="267.48" y="54.39" width="1.17" height="1.41" fill="#2e64a4"/>
<rect x="268.71" y="54.48" width="1.17" height="1.32" fill="#2e64a4"/>
<rect x="269.94" y="53.80" width="1.17" height="2.00" fill="#2e64a4"/>
<rect x="271.17" y="55.48" width="1.17" height="0.32" fill="#2f8a6c"/>
<rect x="272.40" y="55.09" width="1.17" height="0.71" fill="#2f8a6c"/>
<rect x="273.62" y="55.26" width="1.17" height="0.54" fill="#2f8a6c"/>
<rect x="274.85" y="55.20" width="1.17" height="0.60" fill="#2f8a6c"/>
<rect x="276.08" y="55.51" width="1.17" height="0.29" fill="#2f8a6c"/>
<rect x="277.31" y="55.52" width="1.17" height="0.28" fill="#2f8a6c"/>
<rect x="278.54" y="55.21" width="1.17" height="0.59" fill="#2f8a6c"/>
<rect x="279.77" y="55.34" width="1.17" height="0.46" fill="#2f8a6c"/>
<rect x="281.00" y="55.51" width="1.17" height="0.29" fill="#2f8a6c"/>
<rect x="282.23" y="55.08" width="1.17" height="0.72" fill="#2f8a6c"/>
<rect x="283.46" y="55.23" width="1.17" height="0.57" fill="#2f8a6c"/>
<rect x="284.69" y="55.15" width="1.17" height="0.65" fill="#2f8a6c"/>
<rect x="285.92" y="55.51" width="1.17" height="0.29" fill="#2f8a6c"/>
<rect x="287.15" y="55.12" width="1.17" height="0.68" fill="#2f8a6c"/>
<rect x="288.38" y="55.52" width="1.17" height="0.28" fill="#2f8a6c"/>
<rect x="289.60" y="55.12" width="1.17" height="0.68" fill="#2f8a6c"/>
<rect x="290.83" y="52.75" width="1.17" height="3.05" fill="#d94a6a"/>
<rect x="292.06" y="53.11" width="1.17" height="2.69" fill="#d94a6a"/>
<rect x="293.29" y="39.80" width="1.17" height="16.00" fill="#d94a6a"/>
<rect x="294.52" y="51.23" width="1.17" height="4.57" fill="#d94a6a"/>
<rect x="295.75" y="53.34" width="1.17" height="2.46" fill="#d94a6a"/>
<rect x="296.98" y="53.79" width="1.17" height="2.01" fill="#d94a6a"/>
<rect x="298.21" y="46.40" width="1.17" height="9.40" fill="#d94a6a"/>
<rect x="299.44" y="53.44" width="1.17" height="2.36" fill="#d94a6a"/>
<rect x="300.67" y="53.85" width="1.17" height="1.95" fill="#d94a6a"/>
<rect x="301.90" y="53.68" width="1.17" height="2.12" fill="#d94a6a"/>
<rect x="303.12" y="43.50" width="1.17" height="12.30" fill="#d94a6a"/>
<rect x="304.35" y="53.55" width="1.17" height="2.25" fill="#d94a6a"/>
<rect x="305.58" y="53.20" width="1.17" height="2.60" fill="#d94a6a"/>
<rect x="306.81" y="53.22" width="1.17" height="2.58" fill="#d94a6a"/>
<rect x="308.04" y="49.80" width="1.17" height="6.00" fill="#d94a6a"/>
<rect x="309.27" y="53.27" width="1.17" height="2.53" fill="#d94a6a"/>
<rect x="310.50" y="55.00" width="1.17" height="0.80" fill="#7d3f98"/>
<rect x="311.73" y="55.26" width="1.17" height="0.54" fill="#7d3f98"/>
<rect x="312.96" y="55.12" width="1.17" height="0.68" fill="#7d3f98"/>
<rect x="314.19" y="55.39" width="1.17" height="0.41" fill="#7d3f98"/>
<rect x="315.42" y="55.20" width="1.17" height="0.60" fill="#7d3f98"/>
<rect x="316.65" y="55.39" width="1.17" height="0.41" fill="#7d3f98"/>
<rect x="317.88" y="54.81" width="1.17" height="0.99" fill="#7d3f98"/>
<rect x="319.10" y="54.96" width="1.17" height="0.84" fill="#7d3f98"/>
<rect x="320.33" y="55.25" width="1.17" height="0.55" fill="#7d3f98"/>
<rect x="321.56" y="55.02" width="1.17" height="0.78" fill="#7d3f98"/>
<rect x="322.79" y="54.65" width="1.17" height="1.15" fill="#7d3f98"/>
<rect x="324.02" y="55.31" width="1.17" height="0.49" fill="#7d3f98"/>
<rect x="325.25" y="53.80" width="1.17" height="2.00" fill="#7d3f98"/>
<rect x="326.48" y="55.05" width="1.17" height="0.75" fill="#7d3f98"/>
<rect x="327.71" y="55.00" width="1.17" height="0.80" fill="#7d3f98"/>
<rect x="328.94" y="54.73" width="1.17" height="1.07" fill="#7d3f98"/>
<rect x="330.17" y="51.30" width="1.17" height="4.50" fill="#3daa45"/>
<rect x="331.40" y="53.59" width="1.17" height="2.21" fill="#3daa45"/>
<rect x="332.62" y="53.19" width="1.17" height="2.61" fill="#3daa45"/>
<rect x="333.85" y="52.54" width="1.17" height="3.26" fill="#3daa45"/>
<rect x="335.08" y="53.95" width="1.17" height="1.85" fill="#3daa45"/>
<rect x="336.31" y="52.87" width="1.17" height="2.93" fill="#3daa45"/>
<rect x="337.54" y="53.15" width="1.17" height="2.65" fill="#3daa45"/>
<rect x="338.77" y="53.30" width="1.17" height="2.50" fill="#3daa45"/>
<rect x="340.00" y="53.81" width="1.17" height="1.99" fill="#3daa45"/>
<rect x="341.23" y="53.94" width="1.17" height="1.86" fill="#3daa45"/>
<rect x="342.46" y="54.58" width="1.17" height="1.22" fill="#3daa45"/>
<rect x="343.69" y="54.41" width="1.17" height="1.39" fill="#3daa45"/>
<rect x="344.92" y="54.54" width="1.17" height="1.26" fill="#3daa45"/>
<rect x="346.15" y="53.07" width="1.17" height="2.73" fill="#3daa45"/>
<rect x="347.38" y="54.14" width="1.17" height="1.66" fill="#3daa45"/>
<rect x="348.60" y="54.34" width="1.17" height="1.46" fill="#3daa45"/>
<rect x="349.83" y="51.80" width="1.17" height="4.00" fill="#e38a24"/>
<rect x="351.06" y="54.73" width="1.17" height="1.07" fill="#e38a24"/>
<rect x="352.29" y="54.70" width="1.17" height="1.10" fill="#e38a24"/>
<rect x="353.52" y="54.86" width="1.17" height="0.94" fill="#e38a24"/>
<rect x="354.75" y="55.17" width="1.17" height="0.63" fill="#e38a24"/>
<rect x="355.98" y="55.21" width="1.17" height="0.59" fill="#e38a24"/>
<rect x="357.21" y="55.17" width="1.17" height="0.63" fill="#e38a24"/>
<rect x="358.44" y="55.03" width="1.17" height="0.77" fill="#e38a24"/>
<rect x="359.67" y="55.27" width="1.17" height="0.53" fill="#e38a24"/>
<rect x="360.90" y="55.04" width="1.17" height="0.76" fill="#e38a24"/>
<rect x="362.12" y="55.19" width="1.17" height="0.61" fill="#e38a24"/>
<rect x="363.35" y="54.63" width="1.17" height="1.17" fill="#e38a24"/>
<rect x="364.58" y="54.62" width="1.17" height="1.18" fill="#e38a24"/>
<rect x="365.81" y="54.96" width="1.17" height="0.84" fill="#e38a24"/>
<rect x="367.04" y="55.20" width="1.17" height="0.60" fill="#e38a24"/>
<rect x="368.27" y="54.63" width="1.17" height="1.17" fill="#e38a24"/>
<rect x="251.50" y="54.90" width="19.67" height="0.9" fill="#2e64a4"/>
<rect x="271.17" y="54.90" width="19.67" height="0.9" fill="#2f8a6c"/>
<rect x="290.83" y="54.90" width="19.67" height="0.9" fill="#d94a6a"/>
<rect x="310.50" y="54.90" width="19.67" height="0.9" fill="#7d3f98"/>
<rect x="330.17" y="54.90" width="19.67" height="0.9" fill="#3daa45"/>
<rect x="349.83" y="54.90" width="19.67" height="0.9" fill="#e38a24"/>
<rect x="251.50" y="20.50" width="118.00" height="35.30" fill="none" stroke="#8a8a8a" stroke-width="1.1"/>
<text x="248.00" y="29.30" font-size="7.6" text-anchor="end" font-weight="normal" fill="#111" stroke="#111" stroke-width="0.16" >20%</text>
<text x="248.00" y="56.20" font-size="7.6" text-anchor="end" font-weight="normal" fill="#111" stroke="#111" stroke-width="0.16" >0%</text>
<text x="253.10" y="29.10" font-size="7" text-anchor="start" font-weight="bold" fill="#000" >Sig. F1</text>
<text x="253.10" y="40.80" font-size="6.8" text-anchor="start" font-weight="normal" fill="#111" stroke="#111" stroke-width="0.05" >Aging</text>
<text x="367.90" y="29.30" font-size="7" text-anchor="end" font-weight="normal" fill="#111" stroke="#111" stroke-width="0.05" >G1 B-cell lymphoma (0.95)</text>
<text x="367.90" y="37.90" font-size="7" text-anchor="end" font-weight="normal" fill="#111" stroke="#111" stroke-width="0.05" >SBS1 (0.79)</text>
<rect x="251.50" y="96.90" width="1.17" height="2.00" fill="#2e64a4"/>
<rect x="252.73" y="97.70" width="1.17" height="1.20" fill="#2e64a4"/>
<rect x="253.96" y="98.20" width="1.17" height="0.70" fill="#2e64a4"/>
<rect x="255.19" y="97.67" width="1.17" height="1.23" fill="#2e64a4"/>
<rect x="256.42" y="97.54" width="1.17" height="1.36" fill="#2e64a4"/>
<rect x="257.65" y="97.50" width="1.17" height="1.40" fill="#2e64a4"/>
<rect x="258.88" y="97.92" width="1.17" height="0.98" fill="#2e64a4"/>
<rect x="260.10" y="97.49" width="1.17" height="1.41" fill="#2e64a4"/>
<rect x="261.33" y="98.19" width="1.17" height="0.71" fill="#2e64a4"/>
<rect x="262.56" y="97.83" width="1.17" height="1.07" fill="#2e64a4"/>
<rect x="263.79" y="98.07" width="1.17" height="0.83" fill="#2e64a4"/>
<rect x="265.02" y="97.64" width="1.17" height="1.26" fill="#2e64a4"/>
<rect x="266.25" y="98.14" width="1.17" height="0.76" fill="#2e64a4"/>
<rect x="267.48" y="98.17" width="1.17" height="0.73" fill="#2e64a4"/>
<rect x="268.71" y="97.77" width="1.17" height="1.13" fill="#2e64a4"/>
<rect x="269.94" y="95.90" width="1.17" height="3.00" fill="#2e64a4"/>
<rect x="271.17" y="98.14" width="1.17" height="0.76" fill="#2f8a6c"/>
<rect x="272.40" y="98.18" width="1.17" height="0.72" fill="#2f8a6c"/>
<rect x="273.62" y="98.02" width="1.17" height="0.88" fill="#2f8a6c"/>
<rect x="274.85" y="98.09" width="1.17" height="0.81" fill="#2f8a6c"/>
<rect x="276.08" y="98.05" width="1.17" height="0.85" fill="#2f8a6c"/>
<rect x="277.31" y="97.93" width="1.17" height="0.97" fill="#2f8a6c"/>
<rect x="278.54" y="98.28" width="1.17" height="0.62" fill="#2f8a6c"/>
<rect x="279.77" y="98.32" width="1.17" height="0.58" fill="#2f8a6c"/>
<rect x="281.00" y="97.86" width="1.17" height="1.04" fill="#2f8a6c"/>
<rect x="282.23" y="98.45" width="1.17" height="0.45" fill="#2f8a6c"/>
<rect x="283.46" y="98.04" width="1.17" height="0.86" fill="#2f8a6c"/>
<rect x="284.69" y="98.10" width="1.17" height="0.80" fill="#2f8a6c"/>
<rect x="285.92" y="98.52" width="1.17" height="0.38" fill="#2f8a6c"/>
<rect x="287.15" y="97.97" width="1.17" height="0.93" fill="#2f8a6c"/>
<rect x="288.38" y="97.93" width="1.17" height="0.97" fill="#2f8a6c"/>
<rect x="289.60" y="98.11" width="1.17" height="0.79" fill="#2f8a6c"/>
<rect x="290.83" y="96.19" width="1.17" height="2.71" fill="#d94a6a"/>
<rect x="292.06" y="96.01" width="1.17" height="2.89" fill="#d94a6a"/>
<rect x="293.29" y="93.70" width="1.17" height="5.20" fill="#d94a6a"/>
<rect x="294.52" y="96.65" width="1.17" height="2.25" fill="#d94a6a"/>
<rect x="295.75" y="96.69" width="1.17" height="2.21" fill="#d94a6a"/>
<rect x="296.98" y="95.96" width="1.17" height="2.94" fill="#d94a6a"/>
<rect x="298.21" y="95.90" width="1.17" height="3.00" fill="#d94a6a"/>
<rect x="299.44" y="95.98" width="1.17" height="2.92" fill="#d94a6a"/>
<rect x="300.67" y="96.52" width="1.17" height="2.38" fill="#d94a6a"/>
<rect x="301.90" y="95.84" width="1.17" height="3.06" fill="#d94a6a"/>
<rect x="303.12" y="95.90" width="1.17" height="3.00" fill="#d94a6a"/>
<rect x="304.35" y="96.27" width="1.17" height="2.63" fill="#d94a6a"/>
<rect x="305.58" y="97.29" width="1.17" height="1.61" fill="#d94a6a"/>
<rect x="306.81" y="95.90" width="1.17" height="3.00" fill="#d94a6a"/>
<rect x="308.04" y="97.51" width="1.17" height="1.39" fill="#d94a6a"/>
<rect x="309.27" y="97.01" width="1.17" height="1.89" fill="#d94a6a"/>
<rect x="310.50" y="96.40" width="1.17" height="2.50" fill="#7d3f98"/>
<rect x="311.73" y="96.50" width="1.17" height="2.40" fill="#7d3f98"/>
<rect x="312.96" y="96.99" width="1.17" height="1.91" fill="#7d3f98"/>
<rect x="314.19" y="96.87" width="1.17" height="2.03" fill="#7d3f98"/>
<rect x="315.42" y="96.87" width="1.17" height="2.03" fill="#7d3f98"/>
<rect x="316.65" y="96.77" width="1.17" height="2.13" fill="#7d3f98"/>
<rect x="317.88" y="97.12" width="1.17" height="1.78" fill="#7d3f98"/>
<rect x="319.10" y="97.99" width="1.17" height="0.91" fill="#7d3f98"/>
<rect x="320.33" y="96.56" width="1.17" height="2.34" fill="#7d3f98"/>
<rect x="321.56" y="96.65" width="1.17" height="2.25" fill="#7d3f98"/>
<rect x="322.79" y="97.09" width="1.17" height="1.81" fill="#7d3f98"/>
<rect x="324.02" y="97.04" width="1.17" height="1.86" fill="#7d3f98"/>
<rect x="325.25" y="93.10" width="1.17" height="5.80" fill="#7d3f98"/>
<rect x="326.48" y="97.88" width="1.17" height="1.02" fill="#7d3f98"/>
<rect x="327.71" y="95.90" width="1.17" height="3.00" fill="#7d3f98"/>
<rect x="328.94" y="97.55" width="1.17" height="1.35" fill="#7d3f98"/>
<rect x="330.17" y="97.46" width="1.17" height="1.44" fill="#3daa45"/>
<rect x="331.40" y="96.99" width="1.17" height="1.91" fill="#3daa45"/>
<rect x="332.62" y="95.83" width="1.17" height="3.07" fill="#3daa45"/>
<rect x="333.85" y="97.14" width="1.17" height="1.76" fill="#3daa45"/>
<rect x="335.08" y="95.80" width="1.17" height="3.10" fill="#3daa45"/>
<rect x="336.31" y="95.21" width="1.17" height="3.69" fill="#3daa45"/>
<rect x="337.54" y="96.42" width="1.17" height="2.48" fill="#3daa45"/>
<rect x="338.77" y="96.69" width="1.17" height="2.21" fill="#3daa45"/>
<rect x="340.00" y="96.45" width="1.17" height="2.45" fill="#3daa45"/>
<rect x="341.23" y="95.94" width="1.17" height="2.96" fill="#3daa45"/>
<rect x="342.46" y="95.73" width="1.17" height="3.17" fill="#3daa45"/>
<rect x="343.69" y="96.11" width="1.17" height="2.79" fill="#3daa45"/>
<rect x="344.92" y="96.04" width="1.17" height="2.86" fill="#3daa45"/>
<rect x="346.15" y="97.46" width="1.17" height="1.44" fill="#3daa45"/>
<rect x="347.38" y="97.28" width="1.17" height="1.62" fill="#3daa45"/>
<rect x="348.60" y="95.40" width="1.17" height="3.50" fill="#3daa45"/>
<rect x="349.83" y="90.00" width="1.17" height="8.90" fill="#e38a24"/>
<rect x="351.06" y="97.93" width="1.17" height="0.97" fill="#e38a24"/>
<rect x="352.29" y="97.62" width="1.17" height="1.28" fill="#e38a24"/>
<rect x="353.52" y="98.29" width="1.17" height="0.61" fill="#e38a24"/>
<rect x="354.75" y="98.23" width="1.17" height="0.67" fill="#e38a24"/>
<rect x="355.98" y="97.98" width="1.17" height="0.92" fill="#e38a24"/>
<rect x="357.21" y="97.49" width="1.17" height="1.41" fill="#e38a24"/>
<rect x="358.44" y="97.47" width="1.17" height="1.43" fill="#e38a24"/>
<rect x="359.67" y="97.49" width="1.17" height="1.41" fill="#e38a24"/>
<rect x="360.90" y="97.95" width="1.17" height="0.95" fill="#e38a24"/>
<rect x="362.12" y="97.68" width="1.17" height="1.22" fill="#e38a24"/>
<rect x="363.35" y="97.74" width="1.17" height="1.16" fill="#e38a24"/>
<rect x="364.58" y="85.40" width="1.17" height="13.50" fill="#e38a24"/>
<rect x="365.81" y="98.16" width="1.17" height="0.74" fill="#e38a24"/>
<rect x="367.04" y="97.23" width="1.17" height="1.67" fill="#e38a24"/>
<rect x="368.27" y="96.90" width="1.17" height="2.00" fill="#e38a24"/>
<rect x="251.50" y="98.00" width="19.67" height="0.9" fill="#2e64a4"/>
<rect x="271.17" y="98.00" width="19.67" height="0.9" fill="#2f8a6c"/>
<rect x="290.83" y="98.00" width="19.67" height="0.9" fill="#d94a6a"/>
<rect x="310.50" y="98.00" width="19.67" height="0.9" fill="#7d3f98"/>
<rect x="330.17" y="98.00" width="19.67" height="0.9" fill="#3daa45"/>
<rect x="349.83" y="98.00" width="19.67" height="0.9" fill="#e38a24"/>
<rect x="251.50" y="63.50" width="118.00" height="35.40" fill="none" stroke="#8a8a8a" stroke-width="1.1"/>
<text x="248.00" y="72.30" font-size="7.6" text-anchor="end" font-weight="normal" fill="#111" stroke="#111" stroke-width="0.16" >20%</text>
<text x="248.00" y="99.30" font-size="7.6" text-anchor="end" font-weight="normal" fill="#111" stroke="#111" stroke-width="0.16" >0%</text>
<text x="253.10" y="72.10" font-size="7" text-anchor="start" font-weight="bold" fill="#000" >Sig. F2</text>
<text x="253.10" y="83.80" font-size="6.8" text-anchor="start" font-weight="normal" fill="#111" stroke="#111" stroke-width="0.05" >Polymerase eta</text>
<text x="367.90" y="72.30" font-size="7" text-anchor="end" font-weight="normal" fill="#111" stroke="#111" stroke-width="0.05" >G7 B-cell lymphoma (0.91)</text>
<text x="367.90" y="80.90" font-size="7" text-anchor="end" font-weight="normal" fill="#111" stroke="#111" stroke-width="0.05" >SBS9 (0.84)</text>
<rect x="251.50" y="139.73" width="1.17" height="2.07" fill="#2e64a4"/>
<rect x="252.73" y="139.79" width="1.17" height="2.01" fill="#2e64a4"/>
<rect x="253.96" y="141.08" width="1.17" height="0.72" fill="#2e64a4"/>
<rect x="255.19" y="140.46" width="1.17" height="1.34" fill="#2e64a4"/>
<rect x="256.42" y="139.95" width="1.17" height="1.85" fill="#2e64a4"/>
<rect x="257.65" y="139.74" width="1.17" height="2.06" fill="#2e64a4"/>
<rect x="258.88" y="140.47" width="1.17" height="1.33" fill="#2e64a4"/>
<rect x="260.10" y="140.72" width="1.17" height="1.08" fill="#2e64a4"/>
<rect x="261.33" y="140.81" width="1.17" height="0.99" fill="#2e64a4"/>
<rect x="262.56" y="139.78" width="1.17" height="2.02" fill="#2e64a4"/>
<rect x="263.79" y="140.81" width="1.17" height="0.99" fill="#2e64a4"/>
<rect x="265.02" y="140.29" width="1.17" height="1.51" fill="#2e64a4"/>
<rect x="266.25" y="140.90" width="1.17" height="0.90" fill="#2e64a4"/>
<rect x="267.48" y="140.37" width="1.17" height="1.43" fill="#2e64a4"/>
<rect x="268.71" y="139.77" width="1.17" height="2.03" fill="#2e64a4"/>
<rect x="269.94" y="138.30" width="1.17" height="3.50" fill="#2e64a4"/>
<rect x="271.17" y="141.14" width="1.17" height="0.66" fill="#2f8a6c"/>
<rect x="272.40" y="141.30" width="1.17" height="0.50" fill="#2f8a6c"/>
<rect x="273.62" y="141.11" width="1.17" height="0.69" fill="#2f8a6c"/>
<rect x="274.85" y="141.20" width="1.17" height="0.60" fill="#2f8a6c"/>
<rect x="276.08" y="141.43" width="1.17" height="0.37" fill="#2f8a6c"/>
<rect x="277.31" y="141.10" width="1.17" height="0.70" fill="#2f8a6c"/>
<rect x="278.54" y="141.31" width="1.17" height="0.49" fill="#2f8a6c"/>
<rect x="279.77" y="141.54" width="1.17" height="0.26" fill="#2f8a6c"/>
<rect x="281.00" y="141.55" width="1.17" height="0.25" fill="#2f8a6c"/>
<rect x="282.23" y="141.30" width="1.17" height="0.50" fill="#2f8a6c"/>
<rect x="283.46" y="141.32" width="1.17" height="0.48" fill="#2f8a6c"/>
<rect x="284.69" y="141.40" width="1.17" height="0.40" fill="#2f8a6c"/>
<rect x="285.92" y="141.48" width="1.17" height="0.32" fill="#2f8a6c"/>
<rect x="287.15" y="141.38" width="1.17" height="0.42" fill="#2f8a6c"/>
<rect x="288.38" y="141.39" width="1.17" height="0.41" fill="#2f8a6c"/>
<rect x="289.60" y="141.13" width="1.17" height="0.67" fill="#2f8a6c"/>
<rect x="290.83" y="140.90" width="1.17" height="0.90" fill="#d94a6a"/>
<rect x="292.06" y="139.55" width="1.17" height="2.25" fill="#d94a6a"/>
<rect x="293.29" y="139.39" width="1.17" height="2.41" fill="#d94a6a"/>
<rect x="294.52" y="140.68" width="1.17" height="1.12" fill="#d94a6a"/>
<rect x="295.75" y="139.23" width="1.17" height="2.57" fill="#d94a6a"/>
<rect x="296.98" y="139.62" width="1.17" height="2.18" fill="#d94a6a"/>
<rect x="298.21" y="139.28" width="1.17" height="2.52" fill="#d94a6a"/>
<rect x="299.44" y="140.38" width="1.17" height="1.42" fill="#d94a6a"/>
<rect x="300.67" y="140.23" width="1.17" height="1.57" fill="#d94a6a"/>
<rect x="301.90" y="140.19" width="1.17" height="1.61" fill="#d94a6a"/>
<rect x="303.12" y="139.10" width="1.17" height="2.70" fill="#d94a6a"/>
<rect x="304.35" y="139.84" width="1.17" height="1.96" fill="#d94a6a"/>
<rect x="305.58" y="140.25" width="1.17" height="1.55" fill="#d94a6a"/>
<rect x="306.81" y="140.13" width="1.17" height="1.67" fill="#d94a6a"/>
<rect x="308.04" y="140.40" width="1.17" height="1.40" fill="#d94a6a"/>
<rect x="309.27" y="140.81" width="1.17" height="0.99" fill="#d94a6a"/>
<rect x="310.50" y="140.84" width="1.17" height="0.96" fill="#7d3f98"/>
<rect x="311.73" y="139.66" width="1.17" height="2.14" fill="#7d3f98"/>
<rect x="312.96" y="140.54" width="1.17" height="1.26" fill="#7d3f98"/>
<rect x="314.19" y="139.50" width="1.17" height="2.30" fill="#7d3f98"/>
<rect x="315.42" y="140.60" width="1.17" height="1.20" fill="#7d3f98"/>
<rect x="316.65" y="140.57" width="1.17" height="1.23" fill="#7d3f98"/>
<rect x="317.88" y="140.18" width="1.17" height="1.62" fill="#7d3f98"/>
<rect x="319.10" y="140.70" width="1.17" height="1.10" fill="#7d3f98"/>
<rect x="320.33" y="140.40" width="1.17" height="1.40" fill="#7d3f98"/>
<rect x="321.56" y="139.47" width="1.17" height="2.33" fill="#7d3f98"/>
<rect x="322.79" y="139.59" width="1.17" height="2.21" fill="#7d3f98"/>
<rect x="324.02" y="139.70" width="1.17" height="2.10" fill="#7d3f98"/>
<rect x="325.25" y="139.99" width="1.17" height="1.81" fill="#7d3f98"/>
<rect x="326.48" y="139.54" width="1.17" height="2.26" fill="#7d3f98"/>
<rect x="327.71" y="139.49" width="1.17" height="2.31" fill="#7d3f98"/>
<rect x="328.94" y="140.12" width="1.17" height="1.68" fill="#7d3f98"/>
<rect x="330.17" y="138.14" width="1.17" height="3.66" fill="#3daa45"/>
<rect x="331.40" y="140.15" width="1.17" height="1.65" fill="#3daa45"/>
<rect x="332.62" y="138.10" width="1.17" height="3.70" fill="#3daa45"/>
<rect x="333.85" y="138.95" width="1.17" height="2.85" fill="#3daa45"/>
<rect x="335.08" y="138.04" width="1.17" height="3.76" fill="#3daa45"/>
<rect x="336.31" y="138.37" width="1.17" height="3.43" fill="#3daa45"/>
<rect x="337.54" y="139.44" width="1.17" height="2.36" fill="#3daa45"/>
<rect x="338.77" y="134.30" width="1.17" height="7.50" fill="#3daa45"/>
<rect x="340.00" y="137.52" width="1.17" height="4.28" fill="#3daa45"/>
<rect x="341.23" y="139.92" width="1.17" height="1.88" fill="#3daa45"/>
<rect x="342.46" y="138.88" width="1.17" height="2.92" fill="#3daa45"/>
<rect x="343.69" y="139.27" width="1.17" height="2.53" fill="#3daa45"/>
<rect x="344.92" y="139.41" width="1.17" height="2.39" fill="#3daa45"/>
<rect x="346.15" y="138.08" width="1.17" height="3.72" fill="#3daa45"/>
<rect x="347.38" y="137.37" width="1.17" height="4.43" fill="#3daa45"/>
<rect x="348.60" y="139.52" width="1.17" height="2.28" fill="#3daa45"/>
<rect x="349.83" y="140.07" width="1.17" height="1.73" fill="#e38a24"/>
<rect x="351.06" y="140.60" width="1.17" height="1.20" fill="#e38a24"/>
<rect x="352.29" y="140.21" width="1.17" height="1.59" fill="#e38a24"/>
<rect x="353.52" y="137.20" width="1.17" height="4.60" fill="#e38a24"/>
<rect x="354.75" y="140.80" width="1.17" height="1.00" fill="#e38a24"/>
<rect x="355.98" y="140.81" width="1.17" height="0.99" fill="#e38a24"/>
<rect x="357.21" y="140.74" width="1.17" height="1.06" fill="#e38a24"/>
<rect x="358.44" y="128.00" width="1.17" height="13.80" fill="#e38a24"/>
<rect x="359.67" y="140.30" width="1.17" height="1.50" fill="#e38a24"/>
<rect x="360.90" y="140.72" width="1.17" height="1.08" fill="#e38a24"/>
<rect x="362.12" y="139.69" width="1.17" height="2.11" fill="#e38a24"/>
<rect x="363.35" y="134.40" width="1.17" height="7.40" fill="#e38a24"/>
<rect x="364.58" y="140.38" width="1.17" height="1.42" fill="#e38a24"/>
<rect x="365.81" y="140.84" width="1.17" height="0.96" fill="#e38a24"/>
<rect x="367.04" y="140.76" width="1.17" height="1.04" fill="#e38a24"/>
<rect x="368.27" y="131.80" width="1.17" height="10.00" fill="#e38a24"/>
<rect x="251.50" y="140.90" width="19.67" height="0.9" fill="#2e64a4"/>
<rect x="271.17" y="140.90" width="19.67" height="0.9" fill="#2f8a6c"/>
<rect x="290.83" y="140.90" width="19.67" height="0.9" fill="#d94a6a"/>
<rect x="310.50" y="140.90" width="19.67" height="0.9" fill="#7d3f98"/>
<rect x="330.17" y="140.90" width="19.67" height="0.9" fill="#3daa45"/>
<rect x="349.83" y="140.90" width="19.67" height="0.9" fill="#e38a24"/>
<rect x="251.50" y="107.00" width="118.00" height="34.80" fill="none" stroke="#8a8a8a" stroke-width="1.1"/>
<text x="248.00" y="115.80" font-size="7.6" text-anchor="end" font-weight="normal" fill="#111" stroke="#111" stroke-width="0.16" >20%</text>
<text x="248.00" y="142.20" font-size="7.6" text-anchor="end" font-weight="normal" fill="#111" stroke="#111" stroke-width="0.16" >0%</text>
<text x="253.10" y="115.60" font-size="7" text-anchor="start" font-weight="bold" fill="#000" >Sig. F3</text>
<text x="253.10" y="127.30" font-size="6.8" text-anchor="start" font-weight="normal" fill="#111" stroke="#111" stroke-width="0.05" >Unknown</text>
<text x="367.90" y="115.80" font-size="7" text-anchor="end" font-weight="normal" fill="#111" stroke="#111" stroke-width="0.05" >G5 B-cell lymphoma (0.92)</text>
<text x="367.90" y="124.40" font-size="7" text-anchor="end" font-weight="normal" fill="#111" stroke="#111" stroke-width="0.05" >SBS17b (0.68)</text>
<rect x="395.50" y="51.40" width="1.17" height="4.40" fill="#2e64a4"/>
<rect x="396.73" y="54.32" width="1.17" height="1.48" fill="#2e64a4"/>
<rect x="397.96" y="53.95" width="1.17" height="1.85" fill="#2e64a4"/>
<rect x="399.19" y="53.90" width="1.17" height="1.90" fill="#2e64a4"/>
<rect x="400.42" y="51.40" width="1.17" height="4.40" fill="#2e64a4"/>
<rect x="401.65" y="52.33" width="1.17" height="3.47" fill="#2e64a4"/>
<rect x="402.88" y="52.68" width="1.17" height="3.12" fill="#2e64a4"/>
<rect x="404.10" y="48.50" width="1.17" height="7.30" fill="#2e64a4"/>
<rect x="405.33" y="53.52" width="1.17" height="2.28" fill="#2e64a4"/>
<rect x="406.56" y="53.24" width="1.17" height="2.56" fill="#2e64a4"/>
<rect x="407.79" y="53.61" width="1.17" height="2.19" fill="#2e64a4"/>
<rect x="409.02" y="49.70" width="1.17" height="6.10" fill="#2e64a4"/>
<rect x="410.25" y="54.39" width="1.17" height="1.41" fill="#2e64a4"/>
<rect x="411.48" y="53.86" width="1.17" height="1.94" fill="#2e64a4"/>
<rect x="412.71" y="52.13" width="1.17" height="3.67" fill="#2e64a4"/>
<rect x="413.94" y="44.30" width="1.17" height="11.50" fill="#2e64a4"/>
<rect x="415.17" y="55.30" width="1.17" height="0.50" fill="#2f8a6c"/>
<rect x="416.40" y="55.24" width="1.17" height="0.56" fill="#2f8a6c"/>
<rect x="417.62" y="55.12" width="1.17" height="0.68" fill="#2f8a6c"/>
<rect x="418.85" y="55.44" width="1.17" height="0.36" fill="#2f8a6c"/>
<rect x="420.08" y="55.41" width="1.17" height="0.39" fill="#2f8a6c"/>
<rect x="421.31" y="55.43" width="1.17" height="0.37" fill="#2f8a6c"/>
<rect x="422.54" y="55.35" width="1.17" height="0.45" fill="#2f8a6c"/>
<rect x="423.77" y="55.33" width="1.17" height="0.47" fill="#2f8a6c"/>
<rect x="425.00" y="55.07" width="1.17" height="0.73" fill="#2f8a6c"/>
<rect x="426.23" y="55.13" width="1.17" height="0.67" fill="#2f8a6c"/>
<rect x="427.46" y="55.11" width="1.17" height="0.69" fill="#2f8a6c"/>
<rect x="428.69" y="55.54" width="1.17" height="0.26" fill="#2f8a6c"/>
<rect x="429.92" y="55.53" width="1.17" height="0.27" fill="#2f8a6c"/>
<rect x="431.15" y="55.20" width="1.17" height="0.60" fill="#2f8a6c"/>
<rect x="432.38" y="55.10" width="1.17" height="0.70" fill="#2f8a6c"/>
<rect x="433.60" y="55.31" width="1.17" height="0.49" fill="#2f8a6c"/>
<rect x="434.83" y="50.30" width="1.17" height="5.50" fill="#d94a6a"/>
<rect x="436.06" y="54.55" width="1.17" height="1.25" fill="#d94a6a"/>
<rect x="437.29" y="53.57" width="1.17" height="2.23" fill="#d94a6a"/>
<rect x="438.52" y="52.23" width="1.17" height="3.57" fill="#d94a6a"/>
<rect x="439.75" y="52.49" width="1.17" height="3.31" fill="#d94a6a"/>
<rect x="440.98" y="52.41" width="1.17" height="3.39" fill="#d94a6a"/>
<rect x="442.21" y="52.12" width="1.17" height="3.68" fill="#d94a6a"/>
<rect x="443.44" y="53.93" width="1.17" height="1.87" fill="#d94a6a"/>
<rect x="444.67" y="54.28" width="1.17" height="1.52" fill="#d94a6a"/>
<rect x="445.90" y="54.16" width="1.17" height="1.64" fill="#d94a6a"/>
<rect x="447.12" y="53.24" width="1.17" height="2.56" fill="#d94a6a"/>
<rect x="448.35" y="52.84" width="1.17" height="2.96" fill="#d94a6a"/>
<rect x="449.58" y="52.20" width="1.17" height="3.60" fill="#d94a6a"/>
<rect x="450.81" y="52.75" width="1.17" height="3.05" fill="#d94a6a"/>
<rect x="452.04" y="52.93" width="1.17" height="2.87" fill="#d94a6a"/>
<rect x="453.27" y="52.64" width="1.17" height="3.16" fill="#d94a6a"/>
<rect x="454.50" y="54.36" width="1.17" height="1.44" fill="#7d3f98"/>
<rect x="455.73" y="54.22" width="1.17" height="1.58" fill="#7d3f98"/>
<rect x="456.96" y="54.99" width="1.17" height="0.81" fill="#7d3f98"/>
<rect x="458.19" y="52.80" width="1.17" height="3.00" fill="#7d3f98"/>
<rect x="459.42" y="54.70" width="1.17" height="1.10" fill="#7d3f98"/>
<rect x="460.65" y="53.67" width="1.17" height="2.13" fill="#7d3f98"/>
<rect x="461.88" y="54.08" width="1.17" height="1.72" fill="#7d3f98"/>
<rect x="463.10" y="54.59" width="1.17" height="1.21" fill="#7d3f98"/>
<rect x="464.33" y="54.86" width="1.17" height="0.94" fill="#7d3f98"/>
<rect x="465.56" y="54.67" width="1.17" height="1.13" fill="#7d3f98"/>
<rect x="466.79" y="54.10" width="1.17" height="1.70" fill="#7d3f98"/>
<rect x="468.02" y="54.00" width="1.17" height="1.80" fill="#7d3f98"/>
<rect x="469.25" y="52.80" width="1.17" height="3.00" fill="#7d3f98"/>
<rect x="470.48" y="54.94" width="1.17" height="0.86" fill="#7d3f98"/>
<rect x="471.71" y="52.80" width="1.17" height="3.00" fill="#7d3f98"/>
<rect x="472.94" y="54.18" width="1.17" height="1.62" fill="#7d3f98"/>
<rect x="474.17" y="54.91" width="1.17" height="0.89" fill="#3daa45"/>
<rect x="475.40" y="55.08" width="1.17" height="0.72" fill="#3daa45"/>
<rect x="476.62" y="54.70" width="1.17" height="1.10" fill="#3daa45"/>
<rect x="477.85" y="55.29" width="1.17" height="0.51" fill="#3daa45"/>
<rect x="479.08" y="55.00" width="1.17" height="0.80" fill="#3daa45"/>
<rect x="480.31" y="54.84" width="1.17" height="0.96" fill="#3daa45"/>
<rect x="481.54" y="54.34" width="1.17" height="1.46" fill="#3daa45"/>
<rect x="482.77" y="54.66" width="1.17" height="1.14" fill="#3daa45"/>
<rect x="484.00" y="54.42" width="1.17" height="1.38" fill="#3daa45"/>
<rect x="485.23" y="54.82" width="1.17" height="0.98" fill="#3daa45"/>
<rect x="486.46" y="55.07" width="1.17" height="0.73" fill="#3daa45"/>
<rect x="487.69" y="55.05" width="1.17" height="0.75" fill="#3daa45"/>
<rect x="488.92" y="54.34" width="1.17" height="1.46" fill="#3daa45"/>
<rect x="490.15" y="54.60" width="1.17" height="1.20" fill="#3daa45"/>
<rect x="491.38" y="54.99" width="1.17" height="0.81" fill="#3daa45"/>
<rect x="492.60" y="55.28" width="1.17" height="0.52" fill="#3daa45"/>
<rect x="493.83" y="55.30" width="1.17" height="0.50" fill="#e38a24"/>
<rect x="495.06" y="55.21" width="1.17" height="0.59" fill="#e38a24"/>
<rect x="496.29" y="55.34" width="1.17" height="0.46" fill="#e38a24"/>
<rect x="497.52" y="55.42" width="1.17" height="0.38" fill="#e38a24"/>
<rect x="498.75" y="55.22" width="1.17" height="0.58" fill="#e38a24"/>
<rect x="499.98" y="55.09" width="1.17" height="0.71" fill="#e38a24"/>
<rect x="501.21" y="55.44" width="1.17" height="0.36" fill="#e38a24"/>
<rect x="502.44" y="55.53" width="1.17" height="0.27" fill="#e38a24"/>
<rect x="503.67" y="55.38" width="1.17" height="0.42" fill="#e38a24"/>
<rect x="504.90" y="55.34" width="1.17" height="0.46" fill="#e38a24"/>
<rect x="506.12" y="55.21" width="1.17" height="0.59" fill="#e38a24"/>
<rect x="507.35" y="55.45" width="1.17" height="0.35" fill="#e38a24"/>
<rect x="508.58" y="55.15" width="1.17" height="0.65" fill="#e38a24"/>
<rect x="509.81" y="55.18" width="1.17" height="0.62" fill="#e38a24"/>
<rect x="511.04" y="55.30" width="1.17" height="0.50" fill="#e38a24"/>
<rect x="512.27" y="53.80" width="1.17" height="2.00" fill="#e38a24"/>
<rect x="395.50" y="54.90" width="19.67" height="0.9" fill="#2e64a4"/>
<rect x="415.17" y="54.90" width="19.67" height="0.9" fill="#2f8a6c"/>
<rect x="434.83" y="54.90" width="19.67" height="0.9" fill="#d94a6a"/>
<rect x="454.50" y="54.90" width="19.67" height="0.9" fill="#7d3f98"/>
<rect x="474.17" y="54.90" width="19.67" height="0.9" fill="#3daa45"/>
<rect x="493.83" y="54.90" width="19.67" height="0.9" fill="#e38a24"/>
<rect x="395.50" y="20.50" width="118.00" height="35.30" fill="none" stroke="#8a8a8a" stroke-width="1.1"/>
<text x="392.00" y="29.30" font-size="7.6" text-anchor="end" font-weight="normal" fill="#111" stroke="#111" stroke-width="0.16" >20%</text>
<text x="392.00" y="56.20" font-size="7.6" text-anchor="end" font-weight="normal" fill="#111" stroke="#111" stroke-width="0.16" >0%</text>
<text x="397.10" y="29.10" font-size="7" text-anchor="start" font-weight="bold" fill="#000" >Sig. F4</text>
<text x="397.10" y="40.80" font-size="6.8" text-anchor="start" font-weight="normal" fill="#111" stroke="#111" stroke-width="0.05" >ROS</text>
<text x="511.90" y="29.30" font-size="7" text-anchor="end" font-weight="normal" fill="#111" stroke="#111" stroke-width="0.05" >G6 B-cell lymphoma (0.88)</text>
<text x="511.90" y="37.90" font-size="7" text-anchor="end" font-weight="normal" fill="#111" stroke="#111" stroke-width="0.05" >SBS18 (0.83)</text>
<rect x="395.50" y="94.50" width="1.17" height="4.40" fill="#2e64a4"/>
<rect x="396.73" y="97.84" width="1.17" height="1.06" fill="#2e64a4"/>
<rect x="397.96" y="97.18" width="1.17" height="1.72" fill="#2e64a4"/>
<rect x="399.19" y="97.95" width="1.17" height="0.95" fill="#2e64a4"/>
<rect x="400.42" y="97.96" width="1.17" height="0.94" fill="#2e64a4"/>
<rect x="401.65" y="97.26" width="1.17" height="1.64" fill="#2e64a4"/>
<rect x="402.88" y="97.87" width="1.17" height="1.03" fill="#2e64a4"/>
<rect x="404.10" y="97.01" width="1.17" height="1.89" fill="#2e64a4"/>
<rect x="405.33" y="97.61" width="1.17" height="1.29" fill="#2e64a4"/>
<rect x="406.56" y="98.01" width="1.17" height="0.89" fill="#2e64a4"/>
<rect x="407.79" y="97.96" width="1.17" height="0.94" fill="#2e64a4"/>
<rect x="409.02" y="97.71" width="1.17" height="1.19" fill="#2e64a4"/>
<rect x="410.25" y="97.39" width="1.17" height="1.51" fill="#2e64a4"/>
<rect x="411.48" y="97.02" width="1.17" height="1.88" fill="#2e64a4"/>
<rect x="412.71" y="98.06" width="1.17" height="0.84" fill="#2e64a4"/>
<rect x="413.94" y="97.74" width="1.17" height="1.16" fill="#2e64a4"/>
<rect x="415.17" y="96.40" width="1.17" height="2.50" fill="#2f8a6c"/>
<rect x="416.40" y="96.84" width="1.17" height="2.06" fill="#2f8a6c"/>
<rect x="417.62" y="98.00" width="1.17" height="0.90" fill="#2f8a6c"/>
<rect x="418.85" y="98.13" width="1.17" height="0.77" fill="#2f8a6c"/>
<rect x="420.08" y="98.12" width="1.17" height="0.78" fill="#2f8a6c"/>
<rect x="421.31" y="97.65" width="1.17" height="1.25" fill="#2f8a6c"/>
<rect x="422.54" y="96.94" width="1.17" height="1.96" fill="#2f8a6c"/>
<rect x="423.77" y="96.96" width="1.17" height="1.94" fill="#2f8a6c"/>
<rect x="425.00" y="97.17" width="1.17" height="1.73" fill="#2f8a6c"/>
<rect x="426.23" y="96.80" width="1.17" height="2.10" fill="#2f8a6c"/>
<rect x="427.46" y="96.90" width="1.17" height="2.00" fill="#2f8a6c"/>
<rect x="428.69" y="97.74" width="1.17" height="1.16" fill="#2f8a6c"/>
<rect x="429.92" y="97.94" width="1.17" height="0.96" fill="#2f8a6c"/>
<rect x="431.15" y="96.89" width="1.17" height="2.01" fill="#2f8a6c"/>
<rect x="432.38" y="97.16" width="1.17" height="1.74" fill="#2f8a6c"/>
<rect x="433.60" y="98.16" width="1.17" height="0.74" fill="#2f8a6c"/>
<rect x="434.83" y="92.80" width="1.17" height="6.10" fill="#d94a6a"/>
<rect x="436.06" y="96.62" width="1.17" height="2.28" fill="#d94a6a"/>
<rect x="437.29" y="96.63" width="1.17" height="2.27" fill="#d94a6a"/>
<rect x="438.52" y="96.74" width="1.17" height="2.16" fill="#d94a6a"/>
<rect x="439.75" y="97.16" width="1.17" height="1.74" fill="#d94a6a"/>
<rect x="440.98" y="97.59" width="1.17" height="1.31" fill="#d94a6a"/>
<rect x="442.21" y="96.87" width="1.17" height="2.03" fill="#d94a6a"/>
<rect x="443.44" y="96.69" width="1.17" height="2.21" fill="#d94a6a"/>
<rect x="444.67" y="95.12" width="1.17" height="3.78" fill="#d94a6a"/>
<rect x="445.90" y="97.28" width="1.17" height="1.62" fill="#d94a6a"/>
<rect x="447.12" y="95.09" width="1.17" height="3.81" fill="#d94a6a"/>
<rect x="448.35" y="97.06" width="1.17" height="1.84" fill="#d94a6a"/>
<rect x="449.58" y="96.67" width="1.17" height="2.23" fill="#d94a6a"/>
<rect x="450.81" y="95.46" width="1.17" height="3.44" fill="#d94a6a"/>
<rect x="452.04" y="95.46" width="1.17" height="3.44" fill="#d94a6a"/>
<rect x="453.27" y="96.48" width="1.17" height="2.42" fill="#d94a6a"/>
<rect x="454.50" y="93.70" width="1.17" height="5.20" fill="#7d3f98"/>
<rect x="455.73" y="95.98" width="1.17" height="2.92" fill="#7d3f98"/>
<rect x="456.96" y="96.28" width="1.17" height="2.62" fill="#7d3f98"/>
<rect x="458.19" y="94.64" width="1.17" height="4.26" fill="#7d3f98"/>
<rect x="459.42" y="96.82" width="1.17" height="2.08" fill="#7d3f98"/>
<rect x="460.65" y="96.31" width="1.17" height="2.59" fill="#7d3f98"/>
<rect x="461.88" y="94.71" width="1.17" height="4.19" fill="#7d3f98"/>
<rect x="463.10" y="97.31" width="1.17" height="1.59" fill="#7d3f98"/>
<rect x="464.33" y="96.17" width="1.17" height="2.73" fill="#7d3f98"/>
<rect x="465.56" y="94.96" width="1.17" height="3.94" fill="#7d3f98"/>
<rect x="466.79" y="95.10" width="1.17" height="3.80" fill="#7d3f98"/>
<rect x="468.02" y="97.28" width="1.17" height="1.62" fill="#7d3f98"/>
<rect x="469.25" y="97.30" width="1.17" height="1.60" fill="#7d3f98"/>
<rect x="470.48" y="97.21" width="1.17" height="1.69" fill="#7d3f98"/>
<rect x="471.71" y="94.64" width="1.17" height="4.26" fill="#7d3f98"/>
<rect x="472.94" y="96.63" width="1.17" height="2.27" fill="#7d3f98"/>
<rect x="474.17" y="89.60" width="1.17" height="9.30" fill="#3daa45"/>
<rect x="475.40" y="94.01" width="1.17" height="4.89" fill="#3daa45"/>
<rect x="476.62" y="93.70" width="1.17" height="5.20" fill="#3daa45"/>
<rect x="477.85" y="96.20" width="1.17" height="2.70" fill="#3daa45"/>
<rect x="479.08" y="93.80" width="1.17" height="5.10" fill="#3daa45"/>
<rect x="480.31" y="94.99" width="1.17" height="3.91" fill="#3daa45"/>
<rect x="481.54" y="96.23" width="1.17" height="2.67" fill="#3daa45"/>
<rect x="482.77" y="94.64" width="1.17" height="4.26" fill="#3daa45"/>
<rect x="484.00" y="96.04" width="1.17" height="2.86" fill="#3daa45"/>
<rect x="485.23" y="96.19" width="1.17" height="2.71" fill="#3daa45"/>
<rect x="486.46" y="97.14" width="1.17" height="1.76" fill="#3daa45"/>
<rect x="487.69" y="94.51" width="1.17" height="4.39" fill="#3daa45"/>
<rect x="488.92" y="93.94" width="1.17" height="4.96" fill="#3daa45"/>
<rect x="490.15" y="94.93" width="1.17" height="3.97" fill="#3daa45"/>
<rect x="491.38" y="93.85" width="1.17" height="5.05" fill="#3daa45"/>
<rect x="492.60" y="89.90" width="1.17" height="9.00" fill="#3daa45"/>
<rect x="493.83" y="98.17" width="1.17" height="0.73" fill="#e38a24"/>
<rect x="495.06" y="97.92" width="1.17" height="0.98" fill="#e38a24"/>
<rect x="496.29" y="97.44" width="1.17" height="1.46" fill="#e38a24"/>
<rect x="497.52" y="97.45" width="1.17" height="1.45" fill="#e38a24"/>
<rect x="498.75" y="98.01" width="1.17" height="0.89" fill="#e38a24"/>
<rect x="499.98" y="98.15" width="1.17" height="0.75" fill="#e38a24"/>
<rect x="501.21" y="97.97" width="1.17" height="0.93" fill="#e38a24"/>
<rect x="502.44" y="97.91" width="1.17" height="0.99" fill="#e38a24"/>
<rect x="503.67" y="97.47" width="1.17" height="1.43" fill="#e38a24"/>
<rect x="504.90" y="98.22" width="1.17" height="0.68" fill="#e38a24"/>
<rect x="506.12" y="96.90" width="1.17" height="2.00" fill="#e38a24"/>
<rect x="507.35" y="97.66" width="1.17" height="1.24" fill="#e38a24"/>
<rect x="508.58" y="97.58" width="1.17" height="1.32" fill="#e38a24"/>
<rect x="509.81" y="97.63" width="1.17" height="1.27" fill="#e38a24"/>
<rect x="511.04" y="97.79" width="1.17" height="1.11" fill="#e38a24"/>
<rect x="512.27" y="94.50" width="1.17" height="4.40" fill="#e38a24"/>
<rect x="395.50" y="98.00" width="19.67" height="0.9" fill="#2e64a4"/>
<rect x="415.17" y="98.00" width="19.67" height="0.9" fill="#2f8a6c"/>
<rect x="434.83" y="98.00" width="19.67" height="0.9" fill="#d94a6a"/>
<rect x="454.50" y="98.00" width="19.67" height="0.9" fill="#7d3f98"/>
<rect x="474.17" y="98.00" width="19.67" height="0.9" fill="#3daa45"/>
<rect x="493.83" y="98.00" width="19.67" height="0.9" fill="#e38a24"/>
<rect x="395.50" y="63.50" width="118.00" height="35.40" fill="none" stroke="#8a8a8a" stroke-width="1.1"/>
<text x="392.00" y="72.30" font-size="7.6" text-anchor="end" font-weight="normal" fill="#111" stroke="#111" stroke-width="0.16" >20%</text>
<text x="392.00" y="99.30" font-size="7.6" text-anchor="end" font-weight="normal" fill="#111" stroke="#111" stroke-width="0.16" >0%</text>
<text x="397.10" y="72.10" font-size="7" text-anchor="start" font-weight="bold" fill="#000" >Sig. F5</text>
<text x="397.10" y="83.80" font-size="6.8" text-anchor="start" font-weight="normal" fill="#111" stroke="#111" stroke-width="0.05" >Unknown</text>
<text x="511.90" y="72.30" font-size="7" text-anchor="end" font-weight="normal" fill="#111" stroke="#111" stroke-width="0.05" >SBS5 (0.84)</text>
<rect x="395.50" y="137.40" width="1.17" height="4.40" fill="#2e64a4"/>
<rect x="396.73" y="140.42" width="1.17" height="1.38" fill="#2e64a4"/>
<rect x="397.96" y="139.75" width="1.17" height="2.05" fill="#2e64a4"/>
<rect x="399.19" y="140.87" width="1.17" height="0.93" fill="#2e64a4"/>
<rect x="400.42" y="140.68" width="1.17" height="1.12" fill="#2e64a4"/>
<rect x="401.65" y="139.80" width="1.17" height="2.00" fill="#2e64a4"/>
<rect x="402.88" y="140.60" width="1.17" height="1.20" fill="#2e64a4"/>
<rect x="404.10" y="140.90" width="1.17" height="0.90" fill="#2e64a4"/>
<rect x="405.33" y="140.95" width="1.17" height="0.85" fill="#2e64a4"/>
<rect x="406.56" y="140.12" width="1.17" height="1.68" fill="#2e64a4"/>
<rect x="407.79" y="140.48" width="1.17" height="1.32" fill="#2e64a4"/>
<rect x="409.02" y="139.43" width="1.17" height="2.37" fill="#2e64a4"/>
<rect x="410.25" y="139.59" width="1.17" height="2.21" fill="#2e64a4"/>
<rect x="411.48" y="139.42" width="1.17" height="2.38" fill="#2e64a4"/>
<rect x="412.71" y="140.58" width="1.17" height="1.22" fill="#2e64a4"/>
<rect x="413.94" y="139.30" width="1.17" height="2.50" fill="#2e64a4"/>
<rect x="415.17" y="141.50" width="1.17" height="0.30" fill="#2f8a6c"/>
<rect x="416.40" y="141.30" width="1.17" height="0.50" fill="#2f8a6c"/>
<rect x="417.62" y="141.20" width="1.17" height="0.60" fill="#2f8a6c"/>
<rect x="418.85" y="141.33" width="1.17" height="0.47" fill="#2f8a6c"/>
<rect x="420.08" y="141.43" width="1.17" height="0.37" fill="#2f8a6c"/>
<rect x="421.31" y="141.34" width="1.17" height="0.46" fill="#2f8a6c"/>
<rect x="422.54" y="141.24" width="1.17" height="0.56" fill="#2f8a6c"/>
<rect x="423.77" y="141.21" width="1.17" height="0.59" fill="#2f8a6c"/>
<rect x="425.00" y="141.18" width="1.17" height="0.62" fill="#2f8a6c"/>
<rect x="426.23" y="141.13" width="1.17" height="0.67" fill="#2f8a6c"/>
<rect x="427.46" y="141.22" width="1.17" height="0.58" fill="#2f8a6c"/>
<rect x="428.69" y="141.49" width="1.17" height="0.31" fill="#2f8a6c"/>
<rect x="429.92" y="141.13" width="1.17" height="0.67" fill="#2f8a6c"/>
<rect x="431.15" y="141.40" width="1.17" height="0.40" fill="#2f8a6c"/>
<rect x="432.38" y="141.27" width="1.17" height="0.53" fill="#2f8a6c"/>
<rect x="433.60" y="141.36" width="1.17" height="0.44" fill="#2f8a6c"/>
<rect x="434.83" y="137.40" width="1.17" height="4.40" fill="#d94a6a"/>
<rect x="436.06" y="139.00" width="1.17" height="2.80" fill="#d94a6a"/>
<rect x="437.29" y="135.70" width="1.17" height="6.10" fill="#d94a6a"/>
<rect x="438.52" y="135.10" width="1.17" height="6.70" fill="#d94a6a"/>
<rect x="439.75" y="139.19" width="1.17" height="2.61" fill="#d94a6a"/>
<rect x="440.98" y="130.30" width="1.17" height="11.50" fill="#d94a6a"/>
<rect x="442.21" y="137.49" width="1.17" height="4.31" fill="#d94a6a"/>
<rect x="443.44" y="132.80" width="1.17" height="9.00" fill="#d94a6a"/>
<rect x="444.67" y="138.22" width="1.17" height="3.58" fill="#d94a6a"/>
<rect x="445.90" y="135.83" width="1.17" height="5.97" fill="#d94a6a"/>
<rect x="447.12" y="137.77" width="1.17" height="4.03" fill="#d94a6a"/>
<rect x="448.35" y="138.87" width="1.17" height="2.93" fill="#d94a6a"/>
<rect x="449.58" y="132.80" width="1.17" height="9.00" fill="#d94a6a"/>
<rect x="450.81" y="137.19" width="1.17" height="4.61" fill="#d94a6a"/>
<rect x="452.04" y="134.00" width="1.17" height="7.80" fill="#d94a6a"/>
<rect x="453.27" y="139.39" width="1.17" height="2.41" fill="#d94a6a"/>
<rect x="454.50" y="138.39" width="1.17" height="3.41" fill="#7d3f98"/>
<rect x="455.73" y="137.18" width="1.17" height="4.62" fill="#7d3f98"/>
<rect x="456.96" y="137.11" width="1.17" height="4.69" fill="#7d3f98"/>
<rect x="458.19" y="137.80" width="1.17" height="4.00" fill="#7d3f98"/>
<rect x="459.42" y="139.91" width="1.17" height="1.89" fill="#7d3f98"/>
<rect x="460.65" y="139.02" width="1.17" height="2.78" fill="#7d3f98"/>
<rect x="461.88" y="136.60" width="1.17" height="5.20" fill="#7d3f98"/>
<rect x="463.10" y="139.39" width="1.17" height="2.41" fill="#7d3f98"/>
<rect x="464.33" y="137.80" width="1.17" height="4.00" fill="#7d3f98"/>
<rect x="465.56" y="138.01" width="1.17" height="3.79" fill="#7d3f98"/>
<rect x="466.79" y="136.79" width="1.17" height="5.01" fill="#7d3f98"/>
<rect x="468.02" y="138.75" width="1.17" height="3.05" fill="#7d3f98"/>
<rect x="469.25" y="137.02" width="1.17" height="4.78" fill="#7d3f98"/>
<rect x="470.48" y="138.48" width="1.17" height="3.32" fill="#7d3f98"/>
<rect x="471.71" y="139.14" width="1.17" height="2.66" fill="#7d3f98"/>
<rect x="472.94" y="137.33" width="1.17" height="4.47" fill="#7d3f98"/>
<rect x="474.17" y="140.50" width="1.17" height="1.30" fill="#3daa45"/>
<rect x="475.40" y="141.25" width="1.17" height="0.55" fill="#3daa45"/>
<rect x="476.62" y="140.81" width="1.17" height="0.99" fill="#3daa45"/>
<rect x="477.85" y="140.79" width="1.17" height="1.01" fill="#3daa45"/>
<rect x="479.08" y="141.15" width="1.17" height="0.65" fill="#3daa45"/>
<rect x="480.31" y="141.02" width="1.17" height="0.78" fill="#3daa45"/>
<rect x="481.54" y="141.22" width="1.17" height="0.58" fill="#3daa45"/>
<rect x="482.77" y="141.17" width="1.17" height="0.63" fill="#3daa45"/>
<rect x="484.00" y="141.12" width="1.17" height="0.68" fill="#3daa45"/>
<rect x="485.23" y="140.81" width="1.17" height="0.99" fill="#3daa45"/>
<rect x="486.46" y="140.76" width="1.17" height="1.04" fill="#3daa45"/>
<rect x="487.69" y="141.17" width="1.17" height="0.63" fill="#3daa45"/>
<rect x="488.92" y="141.34" width="1.17" height="0.46" fill="#3daa45"/>
<rect x="490.15" y="141.06" width="1.17" height="0.74" fill="#3daa45"/>
<rect x="491.38" y="140.74" width="1.17" height="1.06" fill="#3daa45"/>
<rect x="492.60" y="141.18" width="1.17" height="0.62" fill="#3daa45"/>
<rect x="493.83" y="141.23" width="1.17" height="0.57" fill="#e38a24"/>
<rect x="495.06" y="141.31" width="1.17" height="0.49" fill="#e38a24"/>
<rect x="496.29" y="140.89" width="1.17" height="0.91" fill="#e38a24"/>
<rect x="497.52" y="141.07" width="1.17" height="0.73" fill="#e38a24"/>
<rect x="498.75" y="141.41" width="1.17" height="0.39" fill="#e38a24"/>
<rect x="499.98" y="141.38" width="1.17" height="0.42" fill="#e38a24"/>
<rect x="501.21" y="141.17" width="1.17" height="0.63" fill="#e38a24"/>
<rect x="502.44" y="141.06" width="1.17" height="0.74" fill="#e38a24"/>
<rect x="503.67" y="141.00" width="1.17" height="0.80" fill="#e38a24"/>
<rect x="504.90" y="141.39" width="1.17" height="0.41" fill="#e38a24"/>
<rect x="506.12" y="141.34" width="1.17" height="0.46" fill="#e38a24"/>
<rect x="507.35" y="140.96" width="1.17" height="0.84" fill="#e38a24"/>
<rect x="508.58" y="141.16" width="1.17" height="0.64" fill="#e38a24"/>
<rect x="509.81" y="141.25" width="1.17" height="0.55" fill="#e38a24"/>
<rect x="511.04" y="141.23" width="1.17" height="0.57" fill="#e38a24"/>
<rect x="512.27" y="140.78" width="1.17" height="1.02" fill="#e38a24"/>
<rect x="395.50" y="140.90" width="19.67" height="0.9" fill="#2e64a4"/>
<rect x="415.17" y="140.90" width="19.67" height="0.9" fill="#2f8a6c"/>
<rect x="434.83" y="140.90" width="19.67" height="0.9" fill="#d94a6a"/>
<rect x="454.50" y="140.90" width="19.67" height="0.9" fill="#7d3f98"/>
<rect x="474.17" y="140.90" width="19.67" height="0.9" fill="#3daa45"/>
<rect x="493.83" y="140.90" width="19.67" height="0.9" fill="#e38a24"/>
<rect x="395.50" y="107.00" width="118.00" height="34.80" fill="none" stroke="#8a8a8a" stroke-width="1.1"/>
<text x="392.00" y="115.80" font-size="7.6" text-anchor="end" font-weight="normal" fill="#111" stroke="#111" stroke-width="0.16" >20%</text>
<text x="392.00" y="142.20" font-size="7.6" text-anchor="end" font-weight="normal" fill="#111" stroke="#111" stroke-width="0.16" >0%</text>
<text x="397.10" y="115.60" font-size="7" text-anchor="start" font-weight="bold" fill="#000" >Sig. F6</text>
<text x="397.10" y="127.30" font-size="6.8" text-anchor="start" font-weight="normal" fill="#111" stroke="#111" stroke-width="0.05" >Unknown</text>
<text x="511.90" y="115.80" font-size="7" text-anchor="end" font-weight="normal" fill="#111" stroke="#111" stroke-width="0.05" >SBS31 (0.79)</text>
<text x="261.33" y="150.60" font-size="7.1" text-anchor="middle" font-weight="normal" fill="#111" stroke="#111" stroke-width="0.05" >C&gt;A</text>
<text x="281.00" y="150.60" font-size="7.1" text-anchor="middle" font-weight="normal" fill="#111" stroke="#111" stroke-width="0.05" >C&gt;G</text>
<text x="302.97" y="150.60" font-size="7.1" text-anchor="middle" font-weight="normal" fill="#111" stroke="#111" stroke-width="0.05" >C&gt;T</text>
<text x="322.83" y="150.60" font-size="7.1" text-anchor="middle" font-weight="normal" fill="#111" stroke="#111" stroke-width="0.05" >T&gt;A</text>
<text x="340.00" y="150.60" font-size="7.1" text-anchor="middle" font-weight="normal" fill="#111" stroke="#111" stroke-width="0.05" >T&gt;C</text>
<text x="359.67" y="150.60" font-size="7.1" text-anchor="middle" font-weight="normal" fill="#111" stroke="#111" stroke-width="0.05" >T&gt;G</text>
<text x="405.83" y="150.60" font-size="7.1" text-anchor="middle" font-weight="normal" fill="#111" stroke="#111" stroke-width="0.05" >C&gt;A</text>
<text x="425.00" y="150.60" font-size="7.1" text-anchor="middle" font-weight="normal" fill="#111" stroke="#111" stroke-width="0.05" >C&gt;G</text>
<text x="444.17" y="150.60" font-size="7.1" text-anchor="middle" font-weight="normal" fill="#111" stroke="#111" stroke-width="0.05" >C&gt;T</text>
<text x="464.33" y="150.60" font-size="7.1" text-anchor="middle" font-weight="normal" fill="#111" stroke="#111" stroke-width="0.05" >T&gt;A</text>
<text x="483.30" y="150.60" font-size="7.1" text-anchor="middle" font-weight="normal" fill="#111" stroke="#111" stroke-width="0.05" >T&gt;C</text>
<text x="503.17" y="150.60" font-size="7.1" text-anchor="middle" font-weight="normal" fill="#111" stroke="#111" stroke-width="0.05" >T&gt;G</text>
<text x="232.80" y="189.60" font-size="10.8" text-anchor="start" font-weight="bold" fill="#000" >F</text>
<text x="310.20" y="188.80" font-size="9.2" text-anchor="middle" font-weight="normal" fill="#1a1a1a" stroke="#1a1a1a" stroke-width="0.16" >Kataegis</text>
<rect x="251.50" y="226.79" width="1.17" height="0.41" fill="#2e64a4"/>
<rect x="252.73" y="226.67" width="1.17" height="0.53" fill="#2e64a4"/>
<rect x="253.96" y="226.77" width="1.17" height="0.43" fill="#2e64a4"/>
<rect x="255.19" y="226.74" width="1.17" height="0.46" fill="#2e64a4"/>
<rect x="256.42" y="226.52" width="1.17" height="0.68" fill="#2e64a4"/>
<rect x="257.65" y="225.70" width="1.17" height="1.50" fill="#2e64a4"/>
<rect x="258.88" y="226.77" width="1.17" height="0.43" fill="#2e64a4"/>
<rect x="260.10" y="226.85" width="1.17" height="0.35" fill="#2e64a4"/>
<rect x="261.33" y="226.59" width="1.17" height="0.61" fill="#2e64a4"/>
<rect x="262.56" y="223.70" width="1.17" height="3.50" fill="#2e64a4"/>
<rect x="263.79" y="226.95" width="1.17" height="0.25" fill="#2e64a4"/>
<rect x="265.02" y="224.20" width="1.17" height="3.00" fill="#2e64a4"/>
<rect x="266.25" y="226.74" width="1.17" height="0.46" fill="#2e64a4"/>
<rect x="267.48" y="226.54" width="1.17" height="0.66" fill="#2e64a4"/>
<rect x="268.71" y="226.75" width="1.17" height="0.45" fill="#2e64a4"/>
<rect x="269.94" y="226.51" width="1.17" height="0.69" fill="#2e64a4"/>
<rect x="271.17" y="226.24" width="1.17" height="0.96" fill="#2f8a6c"/>
<rect x="272.40" y="225.70" width="1.17" height="1.50" fill="#2f8a6c"/>
<rect x="273.62" y="226.69" width="1.17" height="0.51" fill="#2f8a6c"/>
<rect x="274.85" y="221.20" width="1.17" height="6.00" fill="#2f8a6c"/>
<rect x="276.08" y="226.06" width="1.17" height="1.14" fill="#2f8a6c"/>
<rect x="277.31" y="225.20" width="1.17" height="2.00" fill="#2f8a6c"/>
<rect x="278.54" y="226.61" width="1.17" height="0.59" fill="#2f8a6c"/>
<rect x="279.77" y="224.90" width="1.17" height="2.30" fill="#2f8a6c"/>
<rect x="281.00" y="226.33" width="1.17" height="0.87" fill="#2f8a6c"/>
<rect x="282.23" y="222.60" width="1.17" height="4.60" fill="#2f8a6c"/>
<rect x="283.46" y="226.55" width="1.17" height="0.65" fill="#2f8a6c"/>
<rect x="284.69" y="209.30" width="1.17" height="17.90" fill="#2f8a6c"/>
<rect x="285.92" y="226.18" width="1.17" height="1.02" fill="#2f8a6c"/>
<rect x="287.15" y="225.20" width="1.17" height="2.00" fill="#2f8a6c"/>
<rect x="288.38" y="226.59" width="1.17" height="0.61" fill="#2f8a6c"/>
<rect x="289.60" y="224.90" width="1.17" height="2.30" fill="#2f8a6c"/>
<rect x="290.83" y="224.59" width="1.17" height="2.61" fill="#d94a6a"/>
<rect x="292.06" y="221.40" width="1.17" height="5.80" fill="#d94a6a"/>
<rect x="293.29" y="225.81" width="1.17" height="1.39" fill="#d94a6a"/>
<rect x="294.52" y="220.60" width="1.17" height="6.60" fill="#d94a6a"/>
<rect x="295.75" y="224.31" width="1.17" height="2.89" fill="#d94a6a"/>
<rect x="296.98" y="222.60" width="1.17" height="4.60" fill="#d94a6a"/>
<rect x="298.21" y="225.23" width="1.17" height="1.97" fill="#d94a6a"/>
<rect x="299.44" y="221.40" width="1.17" height="5.80" fill="#d94a6a"/>
<rect x="300.67" y="218.50" width="1.17" height="8.70" fill="#d94a6a"/>
<rect x="301.90" y="213.40" width="1.17" height="13.80" fill="#d94a6a"/>
<rect x="303.12" y="224.39" width="1.17" height="2.81" fill="#d94a6a"/>
<rect x="304.35" y="199.30" width="1.17" height="27.90" fill="#d94a6a"/>
<rect x="305.58" y="224.55" width="1.17" height="2.65" fill="#d94a6a"/>
<rect x="306.81" y="222.60" width="1.17" height="4.60" fill="#d94a6a"/>
<rect x="308.04" y="224.63" width="1.17" height="2.57" fill="#d94a6a"/>
<rect x="309.27" y="224.70" width="1.17" height="2.50" fill="#d94a6a"/>
<rect x="310.50" y="226.66" width="1.17" height="0.54" fill="#7d3f98"/>
<rect x="311.73" y="226.39" width="1.17" height="0.81" fill="#7d3f98"/>
<rect x="312.96" y="226.40" width="1.17" height="0.80" fill="#7d3f98"/>
<rect x="314.19" y="226.79" width="1.17" height="0.41" fill="#7d3f98"/>
<rect x="315.42" y="226.77" width="1.17" height="0.43" fill="#7d3f98"/>
<rect x="316.65" y="226.66" width="1.17" height="0.54" fill="#7d3f98"/>
<rect x="317.88" y="226.59" width="1.17" height="0.61" fill="#7d3f98"/>
<rect x="319.10" y="226.67" width="1.17" height="0.53" fill="#7d3f98"/>
<rect x="320.33" y="226.83" width="1.17" height="0.37" fill="#7d3f98"/>
<rect x="321.56" y="226.75" width="1.17" height="0.45" fill="#7d3f98"/>
<rect x="322.79" y="226.47" width="1.17" height="0.73" fill="#7d3f98"/>
<rect x="324.02" y="226.36" width="1.17" height="0.84" fill="#7d3f98"/>
<rect x="325.25" y="226.88" width="1.17" height="0.32" fill="#7d3f98"/>
<rect x="326.48" y="226.56" width="1.17" height="0.64" fill="#7d3f98"/>
<rect x="327.71" y="226.45" width="1.17" height="0.75" fill="#7d3f98"/>
<rect x="328.94" y="226.88" width="1.17" height="0.32" fill="#7d3f98"/>
<rect x="330.17" y="226.26" width="1.17" height="0.94" fill="#3daa45"/>
<rect x="331.40" y="226.77" width="1.17" height="0.43" fill="#3daa45"/>
<rect x="332.62" y="226.43" width="1.17" height="0.77" fill="#3daa45"/>
<rect x="333.85" y="226.46" width="1.17" height="0.74" fill="#3daa45"/>
<rect x="335.08" y="226.41" width="1.17" height="0.79" fill="#3daa45"/>
<rect x="336.31" y="225.20" width="1.17" height="2.00" fill="#3daa45"/>
<rect x="337.54" y="226.56" width="1.17" height="0.64" fill="#3daa45"/>
<rect x="338.77" y="226.44" width="1.17" height="0.76" fill="#3daa45"/>
<rect x="340.00" y="226.55" width="1.17" height="0.65" fill="#3daa45"/>
<rect x="341.23" y="226.39" width="1.17" height="0.81" fill="#3daa45"/>
<rect x="342.46" y="226.54" width="1.17" height="0.66" fill="#3daa45"/>
<rect x="343.69" y="226.54" width="1.17" height="0.66" fill="#3daa45"/>
<rect x="344.92" y="226.83" width="1.17" height="0.37" fill="#3daa45"/>
<rect x="346.15" y="226.42" width="1.17" height="0.78" fill="#3daa45"/>
<rect x="347.38" y="226.51" width="1.17" height="0.69" fill="#3daa45"/>
<rect x="348.60" y="226.69" width="1.17" height="0.51" fill="#3daa45"/>
<rect x="349.83" y="226.44" width="1.17" height="0.76" fill="#e38a24"/>
<rect x="351.06" y="226.43" width="1.17" height="0.77" fill="#e38a24"/>
<rect x="352.29" y="226.63" width="1.17" height="0.57" fill="#e38a24"/>
<rect x="353.52" y="226.79" width="1.17" height="0.41" fill="#e38a24"/>
<rect x="354.75" y="226.62" width="1.17" height="0.58" fill="#e38a24"/>
<rect x="355.98" y="226.84" width="1.17" height="0.36" fill="#e38a24"/>
<rect x="357.21" y="226.82" width="1.17" height="0.38" fill="#e38a24"/>
<rect x="358.44" y="226.64" width="1.17" height="0.56" fill="#e38a24"/>
<rect x="359.67" y="226.84" width="1.17" height="0.36" fill="#e38a24"/>
<rect x="360.90" y="226.63" width="1.17" height="0.57" fill="#e38a24"/>
<rect x="362.12" y="226.59" width="1.17" height="0.61" fill="#e38a24"/>
<rect x="363.35" y="226.88" width="1.17" height="0.32" fill="#e38a24"/>
<rect x="364.58" y="226.52" width="1.17" height="0.68" fill="#e38a24"/>
<rect x="365.81" y="226.85" width="1.17" height="0.35" fill="#e38a24"/>
<rect x="367.04" y="226.46" width="1.17" height="0.74" fill="#e38a24"/>
<rect x="368.27" y="217.40" width="1.17" height="9.80" fill="#e38a24"/>
<rect x="251.50" y="226.30" width="19.67" height="0.9" fill="#2e64a4"/>
<rect x="271.17" y="226.30" width="19.67" height="0.9" fill="#2f8a6c"/>
<rect x="290.83" y="226.30" width="19.67" height="0.9" fill="#d94a6a"/>
<rect x="310.50" y="226.30" width="19.67" height="0.9" fill="#7d3f98"/>
<rect x="330.17" y="226.30" width="19.67" height="0.9" fill="#3daa45"/>
<rect x="349.83" y="226.30" width="19.67" height="0.9" fill="#e38a24"/>
<rect x="251.50" y="192.30" width="118.00" height="34.90" fill="none" stroke="#111" stroke-width="1.1"/>
<text x="248.00" y="201.10" font-size="7.6" text-anchor="end" font-weight="normal" fill="#111" stroke="#111" stroke-width="0.16" >20%</text>
<text x="248.00" y="227.60" font-size="7.6" text-anchor="end" font-weight="normal" fill="#111" stroke="#111" stroke-width="0.16" >0%</text>
<text x="253.10" y="200.90" font-size="7" text-anchor="start" font-weight="bold" fill="#000" >Sig. FL-K1</text>
<text x="367.90" y="201.10" font-size="7" text-anchor="end" font-weight="normal" fill="#111" stroke="#111" stroke-width="0.05" >DLBCL sig. K1</text>
<text x="367.90" y="209.70" font-size="7" text-anchor="end" font-weight="normal" fill="#111" stroke="#111" stroke-width="0.05" >(0.962)</text>
<rect x="251.50" y="269.80" width="1.17" height="0.40" fill="#2e64a4"/>
<rect x="252.73" y="269.98" width="1.17" height="0.22" fill="#2e64a4"/>
<rect x="253.96" y="269.80" width="1.17" height="0.40" fill="#2e64a4"/>
<rect x="255.19" y="269.85" width="1.17" height="0.35" fill="#2e64a4"/>
<rect x="256.42" y="269.62" width="1.17" height="0.58" fill="#2e64a4"/>
<rect x="257.65" y="269.95" width="1.17" height="0.25" fill="#2e64a4"/>
<rect x="258.88" y="269.66" width="1.17" height="0.54" fill="#2e64a4"/>
<rect x="260.10" y="269.60" width="1.17" height="0.60" fill="#2e64a4"/>
<rect x="261.33" y="269.71" width="1.17" height="0.49" fill="#2e64a4"/>
<rect x="262.56" y="269.67" width="1.17" height="0.53" fill="#2e64a4"/>
<rect x="263.79" y="269.92" width="1.17" height="0.28" fill="#2e64a4"/>
<rect x="265.02" y="269.61" width="1.17" height="0.59" fill="#2e64a4"/>
<rect x="266.25" y="269.20" width="1.17" height="1.00" fill="#2e64a4"/>
<rect x="267.48" y="269.62" width="1.17" height="0.58" fill="#2e64a4"/>
<rect x="268.71" y="269.63" width="1.17" height="0.57" fill="#2e64a4"/>
<rect x="269.94" y="269.93" width="1.17" height="0.27" fill="#2e64a4"/>
<rect x="271.17" y="268.50" width="1.17" height="1.70" fill="#2f8a6c"/>
<rect x="272.40" y="269.48" width="1.17" height="0.72" fill="#2f8a6c"/>
<rect x="273.62" y="269.92" width="1.17" height="0.28" fill="#2f8a6c"/>
<rect x="274.85" y="267.50" width="1.17" height="2.70" fill="#2f8a6c"/>
<rect x="276.08" y="269.57" width="1.17" height="0.63" fill="#2f8a6c"/>
<rect x="277.31" y="269.87" width="1.17" height="0.33" fill="#2f8a6c"/>
<rect x="278.54" y="269.50" width="1.17" height="0.70" fill="#2f8a6c"/>
<rect x="279.77" y="269.81" width="1.17" height="0.39" fill="#2f8a6c"/>
<rect x="281.00" y="269.54" width="1.17" height="0.66" fill="#2f8a6c"/>
<rect x="282.23" y="269.88" width="1.17" height="0.32" fill="#2f8a6c"/>
<rect x="283.46" y="269.70" width="1.17" height="0.50" fill="#2f8a6c"/>
<rect x="284.69" y="269.49" width="1.17" height="0.71" fill="#2f8a6c"/>
<rect x="285.92" y="269.85" width="1.17" height="0.35" fill="#2f8a6c"/>
<rect x="287.15" y="269.82" width="1.17" height="0.38" fill="#2f8a6c"/>
<rect x="288.38" y="269.70" width="1.17" height="0.50" fill="#2f8a6c"/>
<rect x="289.60" y="269.79" width="1.17" height="0.41" fill="#2f8a6c"/>
<rect x="290.83" y="269.77" width="1.17" height="0.43" fill="#d94a6a"/>
<rect x="292.06" y="269.65" width="1.17" height="0.55" fill="#d94a6a"/>
<rect x="293.29" y="269.67" width="1.17" height="0.53" fill="#d94a6a"/>
<rect x="294.52" y="269.05" width="1.17" height="1.15" fill="#d94a6a"/>
<rect x="295.75" y="269.26" width="1.17" height="0.94" fill="#d94a6a"/>
<rect x="296.98" y="269.08" width="1.17" height="1.12" fill="#d94a6a"/>
<rect x="298.21" y="269.67" width="1.17" height="0.53" fill="#d94a6a"/>
<rect x="299.44" y="269.17" width="1.17" height="1.03" fill="#d94a6a"/>
<rect x="300.67" y="269.71" width="1.17" height="0.49" fill="#d94a6a"/>
<rect x="301.90" y="269.38" width="1.17" height="0.82" fill="#d94a6a"/>
<rect x="303.12" y="269.29" width="1.17" height="0.91" fill="#d94a6a"/>
<rect x="304.35" y="269.51" width="1.17" height="0.69" fill="#d94a6a"/>
<rect x="305.58" y="267.90" width="1.17" height="2.30" fill="#d94a6a"/>
<rect x="306.81" y="267.20" width="1.17" height="3.00" fill="#d94a6a"/>
<rect x="308.04" y="269.34" width="1.17" height="0.86" fill="#d94a6a"/>
<rect x="309.27" y="269.09" width="1.17" height="1.11" fill="#d94a6a"/>
<rect x="310.50" y="261.50" width="1.17" height="8.70" fill="#7d3f98"/>
<rect x="311.73" y="268.41" width="1.17" height="1.79" fill="#7d3f98"/>
<rect x="312.96" y="268.84" width="1.17" height="1.36" fill="#7d3f98"/>
<rect x="314.19" y="265.60" width="1.17" height="4.60" fill="#7d3f98"/>
<rect x="315.42" y="268.64" width="1.17" height="1.56" fill="#7d3f98"/>
<rect x="316.65" y="269.28" width="1.17" height="0.92" fill="#7d3f98"/>
<rect x="317.88" y="268.41" width="1.17" height="1.79" fill="#7d3f98"/>
<rect x="319.10" y="268.91" width="1.17" height="1.29" fill="#7d3f98"/>
<rect x="320.33" y="267.10" width="1.17" height="3.10" fill="#7d3f98"/>
<rect x="321.56" y="268.68" width="1.17" height="1.52" fill="#7d3f98"/>
<rect x="322.79" y="269.07" width="1.17" height="1.13" fill="#7d3f98"/>
<rect x="324.02" y="269.39" width="1.17" height="0.81" fill="#7d3f98"/>
<rect x="325.25" y="265.90" width="1.17" height="4.30" fill="#7d3f98"/>
<rect x="326.48" y="269.54" width="1.17" height="0.66" fill="#7d3f98"/>
<rect x="327.71" y="268.62" width="1.17" height="1.58" fill="#7d3f98"/>
<rect x="328.94" y="266.70" width="1.17" height="3.50" fill="#7d3f98"/>
<rect x="330.17" y="263.90" width="1.17" height="6.30" fill="#3daa45"/>
<rect x="331.40" y="266.49" width="1.17" height="3.71" fill="#3daa45"/>
<rect x="332.62" y="267.49" width="1.17" height="2.71" fill="#3daa45"/>
<rect x="333.85" y="260.40" width="1.17" height="9.80" fill="#3daa45"/>
<rect x="335.08" y="268.17" width="1.17" height="2.03" fill="#3daa45"/>
<rect x="336.31" y="267.20" width="1.17" height="3.00" fill="#3daa45"/>
<rect x="337.54" y="268.87" width="1.17" height="1.33" fill="#3daa45"/>
<rect x="338.77" y="263.90" width="1.17" height="6.30" fill="#3daa45"/>
<rect x="340.00" y="267.41" width="1.17" height="2.79" fill="#3daa45"/>
<rect x="341.23" y="267.87" width="1.17" height="2.33" fill="#3daa45"/>
<rect x="342.46" y="267.20" width="1.17" height="3.00" fill="#3daa45"/>
<rect x="343.69" y="266.71" width="1.17" height="3.49" fill="#3daa45"/>
<rect x="344.92" y="263.30" width="1.17" height="6.90" fill="#3daa45"/>
<rect x="346.15" y="268.38" width="1.17" height="1.82" fill="#3daa45"/>
<rect x="347.38" y="267.32" width="1.17" height="2.88" fill="#3daa45"/>
<rect x="348.60" y="259.50" width="1.17" height="10.70" fill="#3daa45"/>
<rect x="349.83" y="265.60" width="1.17" height="4.60" fill="#e38a24"/>
<rect x="351.06" y="269.17" width="1.17" height="1.03" fill="#e38a24"/>
<rect x="352.29" y="269.47" width="1.17" height="0.73" fill="#e38a24"/>
<rect x="353.52" y="266.70" width="1.17" height="3.50" fill="#e38a24"/>
<rect x="354.75" y="269.33" width="1.17" height="0.87" fill="#e38a24"/>
<rect x="355.98" y="268.90" width="1.17" height="1.30" fill="#e38a24"/>
<rect x="357.21" y="268.89" width="1.17" height="1.31" fill="#e38a24"/>
<rect x="358.44" y="269.35" width="1.17" height="0.85" fill="#e38a24"/>
<rect x="359.67" y="268.85" width="1.17" height="1.35" fill="#e38a24"/>
<rect x="360.90" y="268.70" width="1.17" height="1.50" fill="#e38a24"/>
<rect x="362.12" y="269.44" width="1.17" height="0.76" fill="#e38a24"/>
<rect x="363.35" y="268.48" width="1.17" height="1.72" fill="#e38a24"/>
<rect x="364.58" y="267.70" width="1.17" height="2.50" fill="#e38a24"/>
<rect x="365.81" y="269.42" width="1.17" height="0.78" fill="#e38a24"/>
<rect x="367.04" y="269.49" width="1.17" height="0.71" fill="#e38a24"/>
<rect x="368.27" y="266.20" width="1.17" height="4.00" fill="#e38a24"/>
<rect x="251.50" y="269.30" width="19.67" height="0.9" fill="#2e64a4"/>
<rect x="271.17" y="269.30" width="19.67" height="0.9" fill="#2f8a6c"/>
<rect x="290.83" y="269.30" width="19.67" height="0.9" fill="#d94a6a"/>
<rect x="310.50" y="269.30" width="19.67" height="0.9" fill="#7d3f98"/>
<rect x="330.17" y="269.30" width="19.67" height="0.9" fill="#3daa45"/>
<rect x="349.83" y="269.30" width="19.67" height="0.9" fill="#e38a24"/>
<rect x="251.50" y="235.60" width="118.00" height="34.60" fill="none" stroke="#111" stroke-width="1.1"/>
<text x="248.00" y="244.40" font-size="7.6" text-anchor="end" font-weight="normal" fill="#111" stroke="#111" stroke-width="0.16" >20%</text>
<text x="248.00" y="270.60" font-size="7.6" text-anchor="end" font-weight="normal" fill="#111" stroke="#111" stroke-width="0.16" >0%</text>
<text x="253.10" y="244.20" font-size="7" text-anchor="start" font-weight="bold" fill="#000" >Sig. FL-K2</text>
<text x="367.90" y="244.40" font-size="7" text-anchor="end" font-weight="normal" fill="#111" stroke="#111" stroke-width="0.05" >DLBCL sig. K2</text>
<text x="367.90" y="253.00" font-size="7" text-anchor="end" font-weight="normal" fill="#111" stroke="#111" stroke-width="0.05" >(0.972)</text>
<text x="261.33" y="278.60" font-size="7.1" text-anchor="middle" font-weight="normal" fill="#111" stroke="#111" stroke-width="0.05" >C&gt;A</text>
<text x="281.00" y="278.60" font-size="7.1" text-anchor="middle" font-weight="normal" fill="#111" stroke="#111" stroke-width="0.05" >C&gt;G</text>
<text x="302.97" y="278.60" font-size="7.1" text-anchor="middle" font-weight="normal" fill="#111" stroke="#111" stroke-width="0.05" >C&gt;T</text>
<text x="322.83" y="278.60" font-size="7.1" text-anchor="middle" font-weight="normal" fill="#111" stroke="#111" stroke-width="0.05" >T&gt;A</text>
<text x="340.00" y="278.60" font-size="7.1" text-anchor="middle" font-weight="normal" fill="#111" stroke="#111" stroke-width="0.05" >T&gt;C</text>
<text x="359.67" y="278.60" font-size="7.1" text-anchor="middle" font-weight="normal" fill="#111" stroke="#111" stroke-width="0.05" >T&gt;G</text>
</svg>
</body></html>
